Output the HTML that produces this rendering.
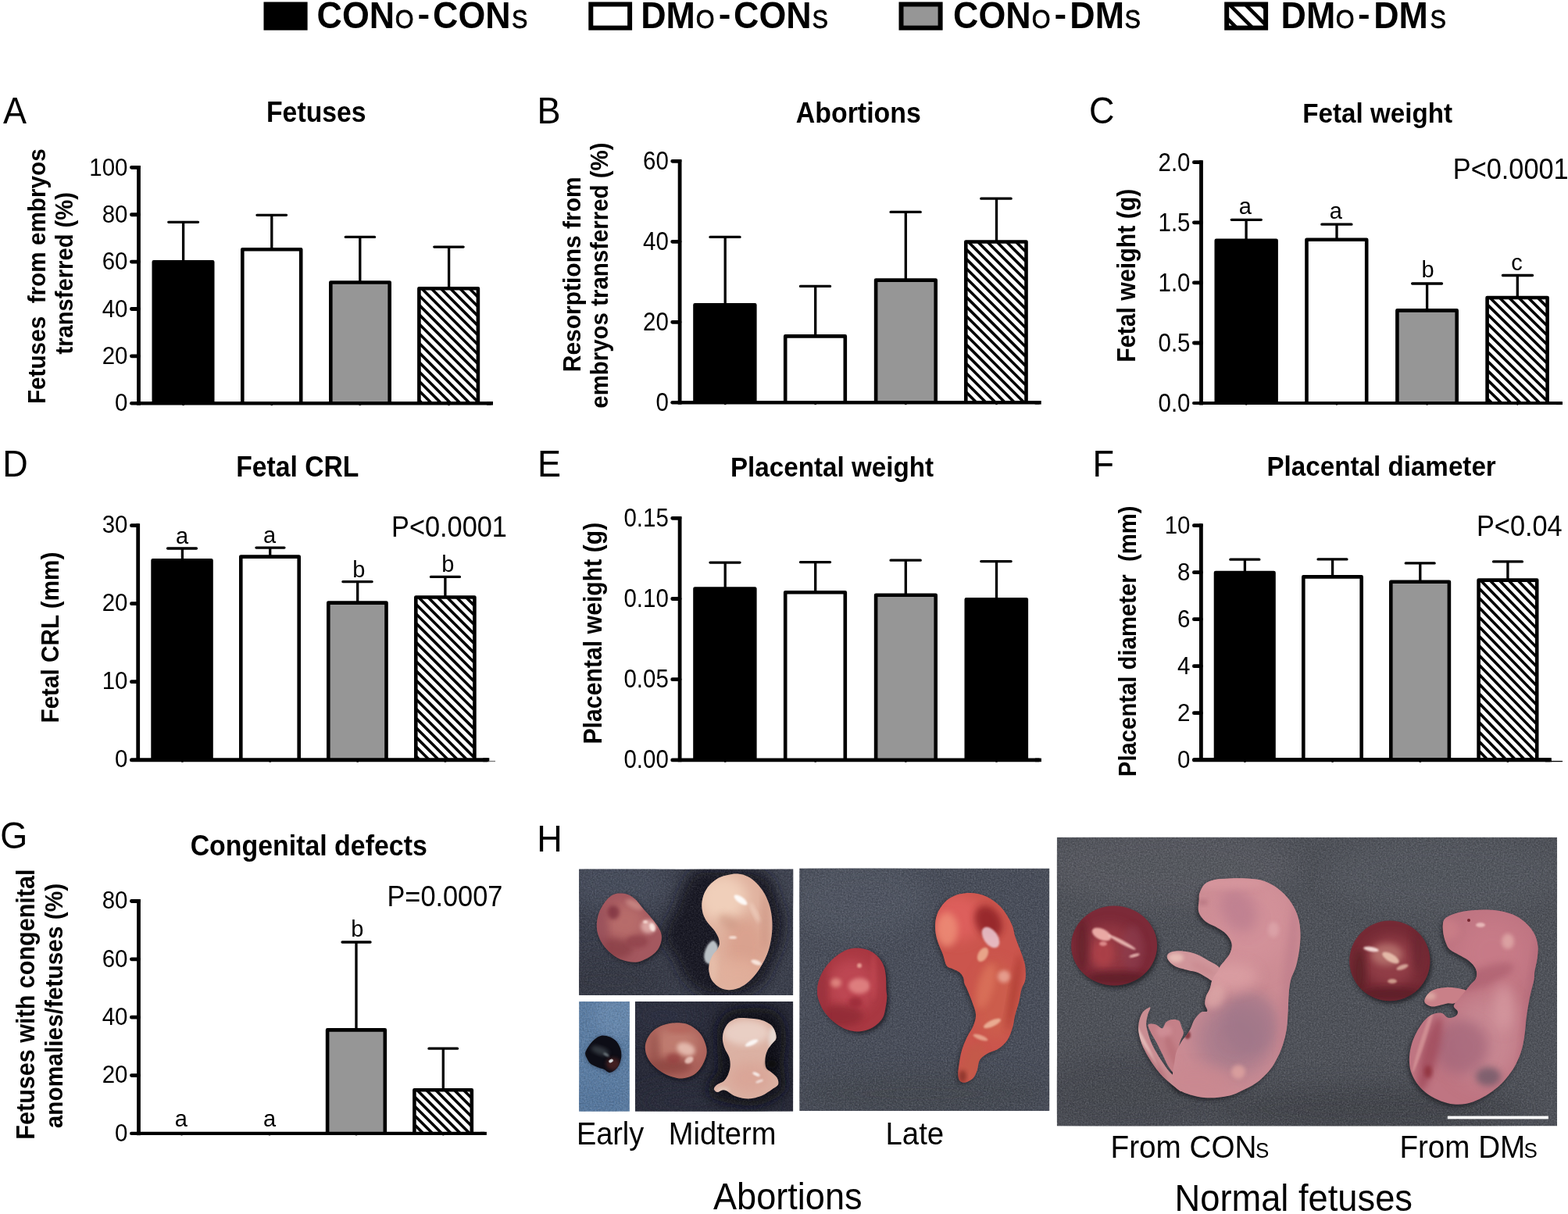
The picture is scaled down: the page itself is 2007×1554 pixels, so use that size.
<!DOCTYPE html>
<html lang="en">
<head>
<meta charset="utf-8">
<title>Fetal and placental outcomes</title>
<style>
html,body{margin:0;padding:0;background:#fff;}
body{width:2007px;height:1554px;overflow:hidden;}
svg{display:block;}
text{font-family:"Liberation Sans", Arial, Helvetica, sans-serif;}
</style>
</head>
<body>
<svg xmlns="http://www.w3.org/2000/svg" width="2007" height="1554" viewBox="0 0 2007 1554" font-family='"Liberation Sans", Arial, Helvetica, sans-serif' fill="#000">
<defs>
<clipPath id="c1"><rect x="1570.20" y="5.50" width="49.90" height="30.20"/></clipPath>
<clipPath id="c2"><rect x="536.40" y="369.20" width="75.50" height="147.05"/></clipPath>
<clipPath id="c3"><rect x="1236.30" y="309.50" width="77.20" height="205.80"/></clipPath>
<clipPath id="c4"><rect x="1903.60" y="381.00" width="77.00" height="135.10"/></clipPath>
<clipPath id="c5"><rect x="532.30" y="764.50" width="75.10" height="208.20"/></clipPath>
<clipPath id="c6"><rect x="1892.60" y="742.60" width="74.60" height="230.10"/></clipPath>
<clipPath id="c7"><rect x="530.40" y="1395.20" width="73.40" height="55.70"/></clipPath>
<filter id="b05" x="-10%" y="-10%" width="120%" height="120%"><feGaussianBlur stdDeviation="0.6"/></filter>
<filter id="b1" x="-20%" y="-20%" width="140%" height="140%"><feGaussianBlur stdDeviation="1.2"/></filter>
<filter id="b2" x="-30%" y="-30%" width="160%" height="160%"><feGaussianBlur stdDeviation="2.5"/></filter>
<filter id="b4" x="-40%" y="-40%" width="180%" height="180%"><feGaussianBlur stdDeviation="4.5"/></filter>
<filter id="b8" x="-50%" y="-50%" width="200%" height="200%"><feGaussianBlur stdDeviation="8"/></filter>
<filter id="b14" x="-60%" y="-60%" width="220%" height="220%"><feGaussianBlur stdDeviation="14"/></filter>
<filter id="tex" x="0" y="0" width="100%" height="100%" filterUnits="objectBoundingBox">
<feTurbulence type="fractalNoise" baseFrequency="0.55 0.55" numOctaves="3" seed="7" result="n"/>
<feColorMatrix in="n" type="matrix" values="0 0 0 0 1  0 0 0 0 1  0 0 0 0 1  1.6 1.6 0 0 -1.25"/>
</filter>
<filter id="texd" x="0" y="0" width="100%" height="100%" filterUnits="objectBoundingBox">
<feTurbulence type="fractalNoise" baseFrequency="0.5 0.5" numOctaves="3" seed="23" result="n"/>
<feColorMatrix in="n" type="matrix" values="0 0 0 0 0  0 0 0 0 0  0 0 0 0 0  1.6 0 1.6 0 -1.25"/>
</filter>
<clipPath id="ph1"><rect x="741.1" y="1112.5" width="274.2" height="161.5"/></clipPath>
<clipPath id="ob2"><path d="M793.8 1143.6C796.8 1143.6 800.3 1143.7 803.6 1145.0C806.8 1146.2 810.1 1148.2 813.3 1151.2C816.6 1154.3 819.6 1159.0 823.1 1163.1C826.6 1167.2 831.0 1171.7 834.3 1175.7C837.5 1179.6 840.5 1183.2 842.6 1186.8C844.7 1190.4 846.4 1193.7 846.8 1197.3C847.3 1200.9 846.6 1205.0 845.4 1208.4C844.3 1211.9 842.6 1215.2 839.8 1218.2C837.1 1221.2 832.6 1224.4 828.7 1226.6C824.7 1228.8 820.3 1230.8 816.1 1231.5C811.9 1232.2 807.8 1231.6 803.6 1230.8C799.4 1230.0 795.0 1228.7 791.0 1226.6C787.1 1224.5 783.1 1221.2 779.9 1218.2C776.6 1215.2 773.8 1211.9 771.5 1208.4C769.2 1205.0 767.2 1201.0 765.9 1197.3C764.6 1193.6 763.9 1190.1 763.8 1186.1C763.7 1182.2 764.3 1177.5 765.2 1173.6C766.1 1169.6 767.4 1166.1 769.4 1162.4C771.4 1158.7 774.4 1154.2 777.1 1151.2C779.7 1148.3 782.6 1146.2 785.4 1145.0C788.2 1143.7 790.8 1143.6 793.8 1143.6Z"/></clipPath>
<clipPath id="ob3"><path d="M931.9 1119.9C936.1 1118.9 940.3 1118.1 944.5 1118.5C948.7 1118.8 953.1 1120.0 957.0 1122.0C961.0 1123.9 964.7 1126.8 968.2 1130.3C971.7 1133.8 975.3 1138.5 978.0 1142.9C980.6 1147.3 982.6 1151.9 984.2 1156.8C985.9 1161.7 987.0 1166.8 987.7 1172.2C988.4 1177.5 988.7 1183.3 988.4 1188.9C988.2 1194.5 987.4 1200.3 986.3 1205.7C985.3 1211.0 984.0 1216.1 982.1 1221.0C980.3 1225.9 977.7 1230.5 975.2 1235.0C972.6 1239.4 970.0 1243.6 966.8 1247.5C963.5 1251.5 959.6 1255.6 955.6 1258.7C951.7 1261.7 947.3 1264.2 943.1 1265.6C938.9 1267.0 934.5 1267.5 930.5 1267.0C926.6 1266.6 922.6 1264.9 919.4 1262.9C916.1 1260.8 913.0 1257.7 911.0 1254.5C909.0 1251.2 908.0 1247.0 907.5 1243.3C907.0 1239.6 907.4 1235.7 908.2 1232.2C909.0 1228.7 910.8 1225.2 912.4 1222.4C914.0 1219.6 916.6 1217.7 918.0 1215.4C919.4 1213.1 920.5 1211.0 920.8 1208.4C921.0 1205.9 920.5 1203.1 919.4 1200.1C918.2 1197.1 916.1 1193.6 913.8 1190.3C911.5 1187.1 907.7 1184.0 905.4 1180.5C903.1 1177.1 901.0 1173.3 899.8 1169.4C898.7 1165.4 898.2 1161.0 898.4 1156.8C898.7 1152.6 899.6 1148.2 901.2 1144.3C902.9 1140.3 905.2 1136.5 908.2 1133.1C911.2 1129.7 915.4 1126.3 919.4 1124.0C923.3 1121.8 927.7 1120.8 931.9 1119.9Z"/></clipPath>
<clipPath id="ph4"><rect x="741.1" y="1281.9" width="64.8" height="140.9"/></clipPath>
<clipPath id="ob5"><path d="M771.5 1325.4C774.2 1325.4 778.2 1326.1 781.2 1327.5C784.3 1328.9 787.4 1331.1 789.6 1333.8C791.8 1336.5 793.6 1340.3 794.5 1343.6C795.4 1346.8 795.5 1350.1 795.2 1353.3C794.8 1356.6 793.8 1360.3 792.4 1363.1C791.0 1365.9 788.9 1368.4 786.8 1370.1C784.7 1371.7 782.2 1373.1 779.9 1372.9C777.5 1372.6 775.4 1369.8 772.9 1368.7C770.3 1367.5 767.3 1367.1 764.5 1365.9C761.7 1364.7 758.3 1363.6 756.1 1361.7C753.9 1359.8 752.4 1357.1 751.3 1354.7C750.1 1352.4 748.8 1350.3 749.2 1347.8C749.5 1345.2 751.7 1341.9 753.3 1339.4C755.0 1336.8 756.9 1334.4 758.9 1332.4C760.9 1330.4 763.1 1328.7 765.2 1327.5C767.3 1326.4 768.8 1325.4 771.5 1325.4Z"/></clipPath>
<clipPath id="ph6"><rect x="812.9" y="1281.9" width="202.4" height="140.9"/></clipPath>
<clipPath id="ob7"><path d="M863.6 1309.4C867.0 1309.3 872.2 1309.2 876.1 1310.1C880.1 1311.0 883.8 1312.6 887.3 1315.0C890.8 1317.3 894.5 1320.7 897.0 1324.0C899.6 1327.4 901.3 1331.5 902.6 1335.2C903.9 1338.9 904.8 1342.6 904.7 1346.4C904.6 1350.1 903.4 1353.8 901.9 1357.5C900.4 1361.2 898.3 1365.4 895.6 1368.7C893.0 1371.9 889.6 1375.1 885.9 1377.1C882.2 1379.0 877.5 1380.3 873.3 1380.5C869.1 1380.8 865.0 1379.7 860.8 1378.4C856.6 1377.2 852.2 1375.2 848.2 1372.9C844.3 1370.5 840.2 1367.5 837.1 1364.5C833.9 1361.5 831.2 1358.2 829.4 1354.7C827.5 1351.2 826.2 1347.3 825.9 1343.6C825.5 1339.8 825.9 1336.1 827.3 1332.4C828.7 1328.7 831.2 1324.4 834.3 1321.2C837.3 1318.1 841.9 1315.4 845.4 1313.6C848.9 1311.8 852.2 1311.1 855.2 1310.4C858.2 1309.7 860.1 1309.4 863.6 1309.4Z"/></clipPath>
<clipPath id="ob8"><path d="M947.3 1303.1C951.0 1302.9 956.6 1303.3 961.2 1303.8C965.9 1304.3 971.0 1304.6 975.2 1305.9C979.4 1307.2 983.5 1309.2 986.3 1311.5C989.1 1313.8 990.7 1316.8 991.9 1319.9C993.1 1322.9 994.0 1326.8 993.3 1329.6C992.6 1332.4 989.6 1334.0 987.7 1336.6C985.9 1339.2 983.5 1341.7 982.1 1345.0C980.7 1348.2 979.6 1352.4 979.4 1356.1C979.1 1359.8 979.4 1364.5 980.7 1367.3C982.1 1370.1 985.4 1370.8 987.7 1372.9C990.0 1375.0 993.3 1377.3 994.7 1379.8C996.1 1382.4 997.0 1385.9 996.1 1388.2C995.2 1390.5 991.7 1391.9 989.1 1393.8C986.6 1395.7 983.5 1397.7 980.7 1399.4C978.0 1401.0 975.6 1402.4 972.4 1403.6C969.1 1404.7 964.9 1406.0 961.2 1406.3C957.5 1406.7 953.8 1406.3 950.1 1405.7C946.3 1405.0 942.1 1403.7 938.9 1402.2C935.6 1400.7 932.8 1397.7 930.5 1396.6C928.2 1395.4 927.0 1395.0 924.9 1395.2C922.8 1395.4 919.8 1398.2 918.0 1398.0C916.1 1397.7 913.8 1395.4 913.8 1393.8C913.8 1392.2 915.9 1389.8 918.0 1388.2C920.1 1386.6 924.0 1386.1 926.3 1384.0C928.7 1381.9 930.5 1378.9 931.9 1375.7C933.3 1372.4 934.5 1368.2 934.7 1364.5C934.9 1360.8 934.5 1357.1 933.3 1353.3C932.1 1349.6 929.1 1345.9 927.7 1342.2C926.3 1338.5 925.2 1334.7 924.9 1331.0C924.7 1327.3 925.2 1323.3 926.3 1319.9C927.5 1316.4 929.8 1312.5 931.9 1310.1C934.0 1307.6 936.3 1306.4 938.9 1305.2C941.5 1304.0 943.5 1303.3 947.3 1303.1Z"/></clipPath>
<clipPath id="ph9"><rect x="1023.2" y="1111.5" width="320.2" height="310.5"/></clipPath>
<clipPath id="ob10"><path d="M1046.0 1268.0C1046.1 1263.9 1046.8 1258.9 1048.4 1254.2C1050.1 1249.5 1052.6 1244.2 1055.7 1239.6C1058.9 1235.0 1062.8 1230.4 1067.1 1226.6C1071.4 1222.8 1076.9 1219.0 1081.7 1216.8C1086.6 1214.7 1091.5 1213.7 1096.3 1213.6C1101.2 1213.5 1106.6 1214.4 1111.0 1216.0C1115.3 1217.6 1119.1 1220.2 1122.3 1223.3C1125.6 1226.4 1128.6 1230.6 1130.5 1234.7C1132.4 1238.8 1133.0 1242.2 1133.7 1247.7C1134.4 1253.3 1134.3 1263.3 1134.5 1268.0C1134.8 1272.7 1135.5 1272.3 1135.3 1275.7C1135.2 1279.2 1134.5 1284.4 1133.7 1288.7C1132.9 1293.1 1132.4 1297.9 1130.5 1301.7C1128.6 1305.5 1125.6 1308.8 1122.3 1311.5C1119.1 1314.2 1115.3 1316.5 1111.0 1318.0C1106.6 1319.5 1101.5 1320.7 1096.3 1320.4C1091.2 1320.1 1085.2 1318.7 1080.1 1316.4C1075.0 1314.1 1069.8 1310.4 1065.5 1306.6C1061.2 1302.8 1057.1 1298.2 1054.1 1293.6C1051.1 1289.0 1049.0 1283.3 1047.6 1279.0C1046.3 1274.7 1045.9 1272.1 1046.0 1268.0Z"/></clipPath>
<clipPath id="ob11"><path d="M1211.7 1236.3C1209.5 1233.2 1208.7 1226.9 1206.8 1221.7C1204.9 1216.6 1201.9 1210.9 1200.3 1205.5C1198.7 1200.1 1197.3 1194.6 1197.1 1189.2C1196.8 1183.8 1197.3 1177.9 1198.7 1173.0C1200.0 1168.1 1202.5 1163.8 1205.2 1160.0C1207.9 1156.2 1211.1 1152.8 1214.9 1150.2C1218.7 1147.7 1223.3 1145.8 1227.9 1144.5C1232.5 1143.3 1237.7 1142.8 1242.5 1142.9C1247.4 1143.1 1252.6 1143.9 1257.2 1145.4C1261.8 1146.9 1266.1 1149.2 1270.2 1151.9C1274.2 1154.6 1278.3 1158.1 1281.5 1161.6C1284.8 1165.1 1287.2 1168.9 1289.7 1173.0C1292.1 1177.0 1294.5 1181.6 1296.2 1186.0C1297.8 1190.3 1298.0 1194.6 1299.4 1199.0C1300.8 1203.3 1302.7 1207.6 1304.3 1212.0C1305.9 1216.3 1307.8 1220.6 1309.1 1225.0C1310.5 1229.3 1311.9 1233.1 1312.4 1238.0C1312.9 1242.8 1313.2 1249.5 1312.4 1254.2C1311.6 1258.9 1308.9 1261.3 1307.5 1266.0C1306.2 1270.7 1305.6 1276.8 1304.3 1282.2C1302.9 1287.7 1300.8 1293.1 1299.4 1298.5C1298.0 1303.9 1297.8 1309.3 1296.2 1314.7C1294.5 1320.1 1292.6 1326.4 1289.7 1331.0C1286.7 1335.6 1282.6 1339.4 1278.3 1342.3C1274.0 1345.3 1267.7 1346.4 1263.7 1348.8C1259.6 1351.3 1256.1 1353.4 1253.9 1357.0C1251.8 1360.5 1252.0 1366.2 1250.7 1370.0C1249.3 1373.8 1248.2 1377.1 1245.8 1379.7C1243.4 1382.3 1238.9 1384.7 1236.0 1385.4C1233.2 1386.1 1230.4 1385.5 1228.7 1383.8C1227.1 1382.0 1226.4 1378.8 1226.3 1374.8C1226.2 1370.9 1227.1 1365.4 1227.9 1360.2C1228.7 1355.1 1229.6 1349.4 1231.2 1344.0C1232.8 1338.6 1235.2 1332.9 1237.7 1327.7C1240.1 1322.6 1243.9 1318.0 1245.8 1313.1C1247.7 1308.2 1249.3 1303.6 1249.0 1298.5C1248.8 1293.3 1246.1 1287.7 1244.2 1282.2C1242.3 1276.8 1239.3 1269.9 1237.7 1266.0C1236.0 1262.1 1235.2 1261.6 1234.4 1259.1C1233.6 1256.6 1233.9 1253.4 1232.8 1250.9C1231.7 1248.5 1230.1 1246.2 1227.9 1244.5C1225.8 1242.7 1222.5 1241.7 1219.8 1240.4C1217.1 1239.0 1213.8 1239.4 1211.7 1236.3Z"/></clipPath>
<clipPath id="ph12"><rect x="1352.8" y="1071.7" width="640.3" height="369.7"/></clipPath>
<clipPath id="ob13"><ellipse cx="1426.1" cy="1210.5" rx="55" ry="51"/></clipPath>
<clipPath id="ob14"><path d="M1471.3 1289.4C1469.8 1290.0 1465.3 1292.2 1463.1 1295.1C1460.9 1298.0 1459.1 1302.5 1458.2 1306.6C1457.2 1310.7 1456.8 1314.8 1457.3 1319.8C1457.9 1324.7 1459.4 1330.7 1461.4 1336.2C1463.5 1341.7 1466.7 1347.4 1469.7 1352.7C1472.7 1357.9 1476.0 1362.8 1479.5 1367.4C1483.1 1372.1 1487.2 1376.8 1491.0 1380.6C1494.9 1384.4 1499.0 1387.7 1502.6 1390.5C1506.1 1393.2 1511.3 1397.9 1512.4 1397.0C1513.5 1396.2 1510.8 1388.8 1509.1 1385.5C1507.5 1382.2 1504.7 1379.8 1502.6 1377.3C1500.4 1374.8 1498.4 1373.8 1496.0 1370.7C1493.5 1367.7 1490.5 1363.3 1487.8 1359.2C1485.0 1355.1 1482.0 1350.5 1479.5 1346.1C1477.1 1341.7 1474.7 1337.3 1473.0 1332.9C1471.2 1328.5 1469.8 1323.6 1468.8 1319.8C1467.9 1315.9 1467.1 1313.5 1467.2 1309.9C1467.3 1306.3 1468.5 1301.5 1469.3 1298.4C1470.2 1295.3 1471.8 1293.0 1472.1 1291.5C1472.5 1290.0 1472.8 1288.7 1471.3 1289.4Z"/></clipPath>
<clipPath id="ob15"><path d="M1469.7 1311.5C1470.8 1309.9 1476.5 1310.7 1479.5 1311.5C1482.6 1312.4 1485.6 1317.0 1487.8 1316.5C1489.9 1315.9 1490.5 1310.2 1492.7 1308.3C1494.9 1306.3 1498.2 1305.2 1500.9 1305.0C1503.7 1304.7 1507.2 1305.0 1509.1 1306.6C1511.0 1308.3 1511.5 1312.1 1512.4 1314.8C1513.4 1317.6 1515.2 1320.0 1514.9 1323.1C1514.6 1326.1 1512.0 1329.1 1510.8 1332.9C1509.5 1336.8 1508.3 1341.7 1507.5 1346.1C1506.7 1350.5 1506.7 1354.8 1505.8 1359.2C1505.0 1363.6 1504.2 1371.3 1502.6 1372.4C1500.9 1373.5 1498.4 1369.6 1496.0 1365.8C1493.5 1362.0 1490.5 1354.8 1487.8 1349.4C1485.0 1343.9 1482.0 1337.6 1479.5 1332.9C1477.1 1328.3 1474.6 1325.0 1473.0 1321.4C1471.3 1317.8 1468.6 1313.2 1469.7 1311.5Z"/></clipPath>
<clipPath id="ob16"><path d="M1561.7 1240.3C1560.4 1235.9 1550.8 1232.1 1545.3 1228.8C1539.8 1225.5 1534.3 1222.5 1528.9 1220.6C1523.4 1218.6 1517.1 1217.7 1512.4 1217.3C1507.8 1216.9 1503.9 1217.3 1500.9 1218.1C1497.9 1218.9 1495.3 1220.4 1494.3 1222.2C1493.4 1224.0 1493.5 1226.3 1495.2 1228.8C1496.8 1231.2 1500.0 1234.8 1504.2 1237.0C1508.4 1239.2 1515.7 1240.6 1520.6 1241.9C1525.6 1243.3 1529.7 1243.6 1533.8 1245.2C1537.9 1246.9 1542.0 1250.1 1545.3 1251.8C1548.6 1253.4 1550.8 1257.0 1553.5 1255.1C1556.3 1253.2 1563.1 1244.7 1561.7 1240.3Z"/></clipPath>
<clipPath id="ob17"><path d="M1533.8 1164.7C1533.4 1161.4 1534.3 1156.7 1534.6 1153.1C1534.9 1149.6 1534.2 1146.8 1535.4 1143.3C1536.7 1139.7 1538.7 1134.6 1542.0 1131.8C1545.3 1128.9 1549.7 1127.2 1555.2 1126.0C1560.6 1124.8 1568.3 1124.6 1574.9 1124.4C1581.5 1124.1 1588.1 1124.0 1594.6 1124.4C1601.2 1124.8 1608.1 1125.1 1614.4 1126.8C1620.7 1128.6 1627.0 1131.5 1632.4 1135.1C1637.9 1138.6 1643.1 1143.6 1647.2 1148.2C1651.4 1152.9 1654.5 1157.8 1657.1 1163.0C1659.7 1168.2 1661.6 1173.7 1662.9 1179.4C1664.1 1185.2 1664.5 1191.2 1664.5 1197.5C1664.5 1203.8 1663.8 1210.7 1662.9 1217.3C1661.9 1223.8 1660.5 1230.9 1658.8 1237.0C1657.0 1243.1 1653.7 1248.4 1652.2 1254.0C1650.7 1259.6 1650.3 1265.0 1649.7 1270.4C1649.2 1275.9 1649.2 1281.4 1648.9 1286.9C1648.6 1292.4 1648.5 1297.8 1648.1 1303.3C1647.7 1308.8 1647.4 1314.3 1646.4 1319.8C1645.5 1325.2 1644.1 1330.7 1642.3 1336.2C1640.5 1341.7 1638.5 1347.2 1635.7 1352.7C1633.0 1358.1 1630.0 1363.9 1625.9 1369.1C1621.8 1374.3 1616.3 1379.8 1611.1 1383.9C1605.9 1388.0 1600.1 1390.9 1594.6 1393.8C1589.1 1396.6 1583.7 1399.4 1578.2 1401.2C1572.7 1402.9 1567.2 1403.8 1561.7 1404.4C1556.3 1405.1 1550.8 1405.5 1545.3 1405.3C1539.8 1405.0 1534.3 1404.2 1528.9 1402.8C1523.4 1401.4 1516.8 1399.4 1512.4 1397.0C1508.0 1394.7 1504.5 1392.4 1502.6 1388.8C1500.6 1385.3 1500.8 1380.6 1500.9 1375.7C1501.0 1370.7 1502.6 1364.2 1503.4 1359.2C1504.2 1354.3 1504.3 1350.5 1505.8 1346.1C1507.3 1341.7 1510.2 1336.5 1512.4 1332.9C1514.6 1329.4 1517.1 1327.4 1519.0 1324.7C1520.9 1322.0 1522.3 1319.8 1523.9 1316.5C1525.6 1313.2 1526.7 1308.4 1528.9 1305.0C1531.1 1301.5 1534.3 1297.7 1537.1 1295.9C1539.8 1294.1 1544.4 1296.1 1545.3 1294.3C1546.2 1292.5 1542.6 1288.4 1542.3 1285.2C1542.1 1282.1 1542.6 1278.7 1543.7 1275.4C1544.7 1272.1 1547.2 1269.2 1548.6 1265.5C1550.0 1261.9 1550.2 1257.1 1551.9 1253.4C1553.5 1249.8 1556.8 1246.3 1558.5 1243.6C1560.1 1240.8 1560.1 1239.5 1561.7 1237.0C1563.4 1234.5 1566.1 1231.8 1568.3 1228.8C1570.5 1225.8 1573.5 1222.5 1574.9 1218.9C1576.3 1215.3 1577.4 1211.2 1576.5 1207.4C1575.7 1203.6 1573.0 1199.2 1570.0 1195.9C1567.0 1192.6 1562.6 1190.1 1558.5 1187.7C1554.3 1185.2 1548.9 1183.6 1545.3 1181.1C1541.7 1178.6 1539.0 1175.6 1537.1 1172.9C1535.2 1170.1 1534.2 1167.9 1533.8 1164.7Z"/></clipPath>
<clipPath id="ob18"><ellipse cx="1778.9" cy="1229.9" rx="51.6" ry="51.3"/></clipPath>
<clipPath id="ob19"><path d="M1877.2 1268.8C1876.1 1266.2 1868.4 1265.5 1864.0 1264.7C1859.6 1263.9 1855.0 1263.7 1850.9 1263.9C1846.8 1264.0 1842.9 1264.4 1839.4 1265.5C1835.8 1266.6 1832.1 1268.2 1829.5 1270.4C1826.9 1272.6 1824.6 1276.3 1823.7 1278.7C1822.9 1281.0 1823.0 1282.8 1824.6 1284.4C1826.1 1286.1 1829.8 1288.1 1832.8 1288.5C1835.8 1288.9 1839.4 1287.6 1842.6 1286.9C1845.9 1286.2 1849.5 1284.8 1852.5 1284.4C1855.5 1284.0 1857.7 1285.1 1860.7 1284.4C1863.7 1283.7 1867.9 1282.9 1870.6 1280.3C1873.3 1277.7 1878.3 1271.4 1877.2 1268.8Z"/></clipPath>
<clipPath id="ob20"><path d="M1846.8 1184.4C1847.0 1181.1 1847.2 1178.5 1849.2 1176.2C1851.3 1173.8 1854.7 1172.1 1859.1 1170.4C1863.5 1168.8 1870.0 1167.3 1875.5 1166.3C1881.0 1165.3 1886.5 1164.9 1892.0 1164.7C1897.4 1164.4 1902.9 1164.2 1908.4 1164.7C1913.9 1165.1 1919.4 1165.7 1924.9 1167.1C1930.3 1168.5 1936.4 1170.3 1941.3 1172.9C1946.2 1175.5 1950.6 1178.9 1954.4 1182.7C1958.3 1186.6 1962.0 1191.2 1964.3 1195.9C1966.6 1200.6 1967.9 1205.5 1968.4 1210.7C1969.0 1215.9 1968.3 1221.7 1967.6 1227.1C1966.9 1232.6 1965.0 1239.1 1964.3 1243.6C1963.6 1248.1 1964.3 1249.5 1963.5 1254.0C1962.7 1258.5 1960.6 1265.0 1959.4 1270.4C1958.1 1275.9 1957.0 1281.4 1956.1 1286.9C1955.1 1292.4 1954.3 1297.8 1953.6 1303.3C1952.9 1308.8 1952.7 1314.3 1952.0 1319.8C1951.3 1325.2 1950.7 1330.7 1949.5 1336.2C1948.3 1341.7 1946.8 1347.2 1944.6 1352.7C1942.4 1358.1 1939.6 1363.9 1936.4 1369.1C1933.1 1374.3 1929.2 1379.2 1924.9 1383.9C1920.5 1388.6 1915.3 1393.2 1910.1 1397.0C1904.8 1400.9 1899.1 1404.3 1893.6 1406.9C1888.1 1409.5 1882.6 1411.6 1877.2 1412.7C1871.7 1413.8 1866.2 1414.0 1860.7 1413.5C1855.2 1412.9 1849.5 1411.3 1844.3 1409.4C1839.1 1407.5 1833.9 1404.9 1829.5 1402.0C1825.1 1399.1 1821.3 1395.7 1818.0 1392.1C1814.7 1388.6 1811.9 1384.7 1809.8 1380.6C1807.6 1376.5 1805.8 1372.1 1804.8 1367.4C1803.9 1362.8 1803.7 1357.6 1804.0 1352.7C1804.3 1347.7 1805.2 1342.5 1806.5 1337.9C1807.7 1333.2 1809.5 1328.8 1811.4 1324.7C1813.3 1320.6 1815.5 1316.8 1818.0 1313.2C1820.4 1309.6 1823.2 1305.9 1826.2 1303.3C1829.2 1300.7 1832.8 1298.6 1836.1 1297.6C1839.4 1296.5 1843.2 1296.3 1845.9 1297.1C1848.7 1297.9 1850.3 1301.6 1852.5 1302.5C1854.7 1303.4 1857.0 1303.1 1859.1 1302.5C1861.1 1302.0 1863.7 1300.6 1864.8 1299.2C1865.9 1297.8 1866.3 1296.2 1865.7 1294.3C1865.0 1292.4 1860.5 1290.3 1860.7 1287.7C1861.0 1285.1 1864.8 1281.8 1867.3 1278.7C1869.8 1275.5 1873.1 1271.8 1875.5 1268.8C1878.0 1265.8 1879.9 1263.1 1882.1 1260.6C1884.3 1258.0 1887.3 1256.0 1888.7 1253.4C1890.0 1250.9 1890.6 1248.0 1890.3 1245.2C1890.0 1242.5 1889.0 1239.7 1887.0 1237.0C1885.1 1234.3 1882.1 1231.2 1878.8 1228.8C1875.5 1226.3 1871.1 1224.4 1867.3 1222.2C1863.5 1220.0 1858.5 1218.1 1855.8 1215.6C1853.1 1213.2 1852.2 1210.7 1850.9 1207.4C1849.5 1204.1 1848.3 1199.7 1847.6 1195.9C1846.9 1192.1 1846.5 1187.7 1846.8 1184.4Z"/></clipPath>
</defs>
<rect x="0" y="0" width="2007" height="1554" fill="#fff"/>
<rect x="337.5" y="2.5" width="56.10000000000002" height="36.2" fill="#000"/>
<text transform="translate(405.6 35.8) scale(1 1.06)" font-size="44.8" font-weight="bold">CON</text>
<text transform="translate(505.7 35.8) scale(1 1.07)" font-size="30.6" stroke="#000" stroke-width="0.75">O</text>
<text transform="translate(534.5 33.4) scale(1.05 0.96)" font-size="44.8" font-weight="bold">-</text>
<text transform="translate(554.1 35.8) scale(1 1.06)" font-size="44.8" font-weight="bold">CON</text>
<text transform="translate(655.0 35.8) scale(1 1.07)" font-size="30.6" stroke="#000" stroke-width="0.75">S</text>
<rect x="756.3" y="5.5" width="49.80000000000007" height="30.200000000000003" fill="#fff"/>
<rect x="756.3" y="5.5" width="49.80000000000007" height="30.200000000000003" fill="none" stroke="#000" stroke-width="6.0"/>
<text transform="translate(820.2 35.8) scale(1 1.06)" font-size="44.8" font-weight="bold">DM</text>
<text transform="translate(890.8 35.8) scale(1 1.07)" font-size="30.6" stroke="#000" stroke-width="0.75">O</text>
<text transform="translate(919.8 33.4) scale(1.05 0.96)" font-size="44.8" font-weight="bold">-</text>
<text transform="translate(939.1 35.8) scale(1 1.06)" font-size="44.8" font-weight="bold">CON</text>
<text transform="translate(1039.5 35.8) scale(1 1.07)" font-size="30.6" stroke="#000" stroke-width="0.75">S</text>
<rect x="1153.5" y="5.5" width="50.09999999999991" height="30.200000000000003" fill="#969696"/>
<rect x="1153.5" y="5.5" width="50.09999999999991" height="30.200000000000003" fill="none" stroke="#000" stroke-width="6.0"/>
<text transform="translate(1220.1 35.8) scale(1 1.06)" font-size="44.8" font-weight="bold">CON</text>
<text transform="translate(1320.7 35.8) scale(1 1.07)" font-size="30.6" stroke="#000" stroke-width="0.75">O</text>
<text transform="translate(1349.5 33.4) scale(1.05 0.96)" font-size="44.8" font-weight="bold">-</text>
<text transform="translate(1369.3 35.8) scale(1 1.06)" font-size="44.8" font-weight="bold">DM</text>
<text transform="translate(1439.5 35.8) scale(1 1.07)" font-size="30.6" stroke="#000" stroke-width="0.75">S</text>
<rect x="1570.2" y="5.5" width="49.899999999999864" height="30.200000000000003" fill="#fff"/>
<path d="M1565.20 -64.00L1625.10 -4.10M1565.20 -43.50L1625.10 16.40M1565.20 -23.00L1625.10 36.90M1565.20 -2.50L1625.10 57.40M1565.20 18.00L1625.10 77.90M1565.20 38.50L1625.10 98.40" stroke="#000" stroke-width="4.6" fill="none" clip-path="url(#c1)"/>
<rect x="1570.2" y="5.5" width="49.899999999999864" height="30.200000000000003" fill="none" stroke="#000" stroke-width="6.0"/>
<text transform="translate(1639.6 35.8) scale(1 1.06)" font-size="44.8" font-weight="bold">DM</text>
<text transform="translate(1709.7 35.8) scale(1 1.07)" font-size="30.6" stroke="#000" stroke-width="0.75">O</text>
<text transform="translate(1738.1 33.4) scale(1.05 0.96)" font-size="44.8" font-weight="bold">-</text>
<text transform="translate(1758.2 35.8) scale(1 1.06)" font-size="44.8" font-weight="bold">DM</text>
<text transform="translate(1830.5 35.8) scale(1 1.07)" font-size="30.6" stroke="#000" stroke-width="0.75">S</text>
<g id="chartA">
<path d="M234.60 284.30V517.55M215.75 284.30H253.55" stroke="#000" stroke-width="3.3" stroke-linecap="round" fill="none"/>
<rect x="196.80" y="335.20" width="75.40" height="181.05" fill="#000"/>
<path d="M196.80 516.25V335.20H272.20V516.25" fill="none" stroke="#000" stroke-width="4.6" stroke-linejoin="round"/>
<path d="M347.80 275.30V517.55M328.95 275.30H366.55" stroke="#000" stroke-width="3.3" stroke-linecap="round" fill="none"/>
<rect x="310.30" y="319.20" width="74.90" height="197.05" fill="#fff"/>
<path d="M310.30 516.25V319.20H385.20V516.25" fill="none" stroke="#000" stroke-width="4.6" stroke-linejoin="round"/>
<path d="M460.80 303.40V517.55M442.25 303.40H479.55" stroke="#000" stroke-width="3.3" stroke-linecap="round" fill="none"/>
<rect x="423.30" y="361.50" width="75.40" height="154.75" fill="#969696"/>
<path d="M423.30 516.25V361.50H498.70V516.25" fill="none" stroke="#000" stroke-width="4.6" stroke-linejoin="round"/>
<path d="M574.60 316.10V517.55M555.75 316.10H593.15" stroke="#000" stroke-width="3.3" stroke-linecap="round" fill="none"/>
<rect x="536.40" y="369.20" width="75.50" height="147.05" fill="#fff"/>
<path d="M531.40 275.50L616.90 361.00M531.40 287.70L616.90 373.20M531.40 299.90L616.90 385.40M531.40 312.10L616.90 397.60M531.40 324.30L616.90 409.80M531.40 336.50L616.90 422.00M531.40 348.70L616.90 434.20M531.40 360.90L616.90 446.40M531.40 373.10L616.90 458.60M531.40 385.30L616.90 470.80M531.40 397.50L616.90 483.00M531.40 409.70L616.90 495.20M531.40 421.90L616.90 507.40M531.40 434.10L616.90 519.60M531.40 446.30L616.90 531.80M531.40 458.50L616.90 544.00M531.40 470.70L616.90 556.20M531.40 482.90L616.90 568.40M531.40 495.10L616.90 580.60M531.40 507.30L616.90 592.80M531.40 519.50L616.90 605.00" stroke="#000" stroke-width="3.6" fill="none" clip-path="url(#c2)"/>
<path d="M536.40 516.25V369.20H611.90V516.25" fill="none" stroke="#000" stroke-width="4.6" stroke-linejoin="round"/>
<path d="M177.50 214.35V516.25" stroke="#000" stroke-width="4.8" stroke-linecap="square" fill="none"/>
<path d="M168.40 455.87H177.50M168.40 395.49H177.50M168.40 335.11H177.50M168.40 274.73H177.50M168.40 214.35H177.50" stroke="#000" stroke-width="4.8" stroke-linecap="round" fill="none"/>
<path d="M168.30 516.25H628.00" stroke="#000" stroke-width="4.6" stroke-linecap="round" fill="none"/>
<rect x="623.00" y="513.95" width="8" height="4.6" fill="#000"/>
<text transform="translate(163.5 526.4) scale(1 1.075)" font-size="29.5" text-anchor="end">0</text>
<text transform="translate(163.5 466.0) scale(1 1.075)" font-size="29.5" text-anchor="end">20</text>
<text transform="translate(163.5 405.6) scale(1 1.075)" font-size="29.5" text-anchor="end">40</text>
<text transform="translate(163.5 345.3) scale(1 1.075)" font-size="29.5" text-anchor="end">60</text>
<text transform="translate(163.5 284.9) scale(1 1.075)" font-size="29.5" text-anchor="end">80</text>
<text transform="translate(163.5 224.5) scale(1 1.075)" font-size="29.5" text-anchor="end">100</text>
<text transform="translate(404.8 156.2) scale(1 1.08)" font-size="33.8" font-weight="bold" text-anchor="middle">Fetuses</text>
<text transform="translate(4.0 158.0) scale(1 1.06)" font-size="45">A</text>
<text transform="translate(58.4 353.7) rotate(-90) scale(1 1.07)" font-size="29.7" font-weight="bold" text-anchor="middle" xml:space="preserve">Fetuses  from embryos</text>
<text transform="translate(93.2 349.8) rotate(-90) scale(1 1.07)" font-size="29.2" font-weight="bold" text-anchor="middle" xml:space="preserve">transferred (%)</text>
</g>
<g id="chartB">
<path d="M928.20 303.40V516.60M908.95 303.40H947.05" stroke="#000" stroke-width="3.3" stroke-linecap="round" fill="none"/>
<rect x="889.50" y="390.30" width="76.80" height="125.00" fill="#000"/>
<path d="M889.50 515.30V390.30H966.30V515.30" fill="none" stroke="#000" stroke-width="4.6" stroke-linejoin="round"/>
<path d="M1043.70 366.40V516.60M1024.45 366.40H1062.55" stroke="#000" stroke-width="3.3" stroke-linecap="round" fill="none"/>
<rect x="1005.20" y="430.40" width="76.60" height="84.90" fill="#fff"/>
<path d="M1005.20 515.30V430.40H1081.80V515.30" fill="none" stroke="#000" stroke-width="4.6" stroke-linejoin="round"/>
<path d="M1159.30 271.40V516.60M1140.05 271.40H1178.25" stroke="#000" stroke-width="3.3" stroke-linecap="round" fill="none"/>
<rect x="1121.10" y="358.60" width="76.60" height="156.70" fill="#969696"/>
<path d="M1121.10 515.30V358.60H1197.70V515.30" fill="none" stroke="#000" stroke-width="4.6" stroke-linejoin="round"/>
<path d="M1275.50 254.20V516.60M1255.75 254.20H1294.15" stroke="#000" stroke-width="3.3" stroke-linecap="round" fill="none"/>
<rect x="1236.30" y="309.50" width="77.20" height="205.80" fill="#fff"/>
<path d="M1231.30 216.10L1318.50 303.30M1231.30 228.30L1318.50 315.50M1231.30 240.50L1318.50 327.70M1231.30 252.70L1318.50 339.90M1231.30 264.90L1318.50 352.10M1231.30 277.10L1318.50 364.30M1231.30 289.30L1318.50 376.50M1231.30 301.50L1318.50 388.70M1231.30 313.70L1318.50 400.90M1231.30 325.90L1318.50 413.10M1231.30 338.10L1318.50 425.30M1231.30 350.30L1318.50 437.50M1231.30 362.50L1318.50 449.70M1231.30 374.70L1318.50 461.90M1231.30 386.90L1318.50 474.10M1231.30 399.10L1318.50 486.30M1231.30 411.30L1318.50 498.50M1231.30 423.50L1318.50 510.70M1231.30 435.70L1318.50 522.90M1231.30 447.90L1318.50 535.10M1231.30 460.10L1318.50 547.30M1231.30 472.30L1318.50 559.50M1231.30 484.50L1318.50 571.70M1231.30 496.70L1318.50 583.90M1231.30 508.90L1318.50 596.10M1231.30 521.10L1318.50 608.30" stroke="#000" stroke-width="3.6" fill="none" clip-path="url(#c3)"/>
<path d="M1236.30 515.30V309.50H1313.50V515.30" fill="none" stroke="#000" stroke-width="4.6" stroke-linejoin="round"/>
<path d="M870.10 206.30V515.30" stroke="#000" stroke-width="4.8" stroke-linecap="square" fill="none"/>
<path d="M860.70 412.30H870.10M860.70 309.30H870.10M860.70 206.30H870.10" stroke="#000" stroke-width="4.8" stroke-linecap="round" fill="none"/>
<path d="M860.60 515.30H1329.70" stroke="#000" stroke-width="4.6" stroke-linecap="round" fill="none"/>
<rect x="1324.70" y="513.00" width="8" height="4.6" fill="#000"/>
<text transform="translate(855.8 526.2) scale(1 1.1)" font-size="29.5" text-anchor="end">0</text>
<text transform="translate(855.8 423.2) scale(1 1.1)" font-size="29.5" text-anchor="end">20</text>
<text transform="translate(855.8 320.2) scale(1 1.1)" font-size="29.5" text-anchor="end">40</text>
<text transform="translate(855.8 217.2) scale(1 1.1)" font-size="29.5" text-anchor="end">60</text>
<text transform="translate(1098.8 157.3) scale(1 1.08)" font-size="33.9" font-weight="bold" text-anchor="middle">Abortions</text>
<text transform="translate(687.5 157.6) scale(1 1.06)" font-size="45">B</text>
<text transform="translate(742.7 351.3) rotate(-90) scale(1 1.07)" font-size="30.0" font-weight="bold" text-anchor="middle" xml:space="preserve">Resorptions from</text>
<text transform="translate(777.9 352.6) rotate(-90) scale(1 1.07)" font-size="29.45" font-weight="bold" text-anchor="middle" xml:space="preserve">embryos transferred (%)</text>
</g>
<g id="chartC">
<path d="M1595.10 281.30V517.10M1576.25 281.30H1614.35" stroke="#000" stroke-width="3.3" stroke-linecap="round" fill="none"/>
<rect x="1556.80" y="307.80" width="76.80" height="208.30" fill="#000"/>
<path d="M1556.80 516.10V307.80H1633.60V516.10" fill="none" stroke="#000" stroke-width="4.6" stroke-linejoin="round"/>
<path d="M1711.00 287.20V517.10M1691.85 287.20H1729.95" stroke="#000" stroke-width="3.3" stroke-linecap="round" fill="none"/>
<rect x="1672.50" y="306.80" width="76.70" height="209.30" fill="#fff"/>
<path d="M1672.50 516.10V306.80H1749.20V516.10" fill="none" stroke="#000" stroke-width="4.6" stroke-linejoin="round"/>
<path d="M1826.60 363.00V517.10M1807.65 363.00H1845.55" stroke="#000" stroke-width="3.3" stroke-linecap="round" fill="none"/>
<rect x="1788.40" y="397.40" width="76.30" height="118.70" fill="#969696"/>
<path d="M1788.40 516.10V397.40H1864.70V516.10" fill="none" stroke="#000" stroke-width="4.6" stroke-linejoin="round"/>
<path d="M1942.30 352.50V517.10M1923.45 352.50H1961.55" stroke="#000" stroke-width="3.3" stroke-linecap="round" fill="none"/>
<rect x="1903.60" y="381.00" width="77.00" height="135.10" fill="#fff"/>
<path d="M1898.60 288.58L1985.60 374.10M1898.60 300.61L1985.60 386.13M1898.60 312.63L1985.60 398.16M1898.60 324.67L1985.60 410.19M1898.60 336.70L1985.60 422.22M1898.60 348.73L1985.60 434.25M1898.60 360.76L1985.60 446.28M1898.60 372.79L1985.60 458.31M1898.60 384.82L1985.60 470.34M1898.60 396.85L1985.60 482.37M1898.60 408.88L1985.60 494.40M1898.60 420.90L1985.60 506.43M1898.60 432.94L1985.60 518.46M1898.60 444.97L1985.60 530.49M1898.60 457.00L1985.60 542.52M1898.60 469.03L1985.60 554.55M1898.60 481.06L1985.60 566.58M1898.60 493.09L1985.60 578.61M1898.60 505.12L1985.60 590.64M1898.60 517.14L1985.60 602.67" stroke="#000" stroke-width="3.6" fill="none" clip-path="url(#c4)"/>
<path d="M1903.60 516.10V381.00H1980.60V516.10" fill="none" stroke="#000" stroke-width="4.6" stroke-linejoin="round"/>
<path d="M1537.50 207.70V516.10" stroke="#000" stroke-width="4.8" stroke-linecap="square" fill="none"/>
<path d="M1528.40 439.00H1537.50M1528.40 361.90H1537.50M1528.40 284.80H1537.50M1528.40 207.70H1537.50" stroke="#000" stroke-width="4.8" stroke-linecap="round" fill="none"/>
<path d="M1528.00 516.10H1997.00" stroke="#000" stroke-width="4.0" stroke-linecap="round" fill="none"/>
<rect x="1992.00" y="514.10" width="8" height="4.0" fill="#000"/>
<text transform="translate(1523.5 527.2) scale(1 1.11)" font-size="29.5" text-anchor="end">0.0</text>
<text transform="translate(1523.5 450.1) scale(1 1.11)" font-size="29.5" text-anchor="end">0.5</text>
<text transform="translate(1523.5 373.0) scale(1 1.11)" font-size="29.5" text-anchor="end">1.0</text>
<text transform="translate(1523.5 295.9) scale(1 1.11)" font-size="29.5" text-anchor="end">1.5</text>
<text transform="translate(1523.5 218.8) scale(1 1.11)" font-size="29.5" text-anchor="end">2.0</text>
<text transform="translate(1593.8 274.0) scale(1 1.03)" font-size="29.0" text-anchor="middle">a</text>
<text transform="translate(1709.7 280.0) scale(1 1.03)" font-size="29.0" text-anchor="middle">a</text>
<text transform="translate(1827.6 355.4) scale(1 1.03)" font-size="29.0" text-anchor="middle">b</text>
<text transform="translate(1941.4 346.4) scale(1 1.03)" font-size="29.0" text-anchor="middle">c</text>
<text transform="translate(1859.8 229.1) scale(1 1.07)" font-size="34.3">P&lt;0.0001</text>
<text transform="translate(1763.2 157.3) scale(1 1.08)" font-size="33.2" font-weight="bold" text-anchor="middle">Fetal weight</text>
<text transform="translate(1394.0 157.6) scale(1 1.06)" font-size="45">C</text>
<text transform="translate(1452.8 352.7) rotate(-90) scale(1 1.07)" font-size="30.3" font-weight="bold" text-anchor="middle" xml:space="preserve">Fetal weight (g)</text>
</g>
<g id="chartD">
<path d="M233.40 702.00V974.20M214.55 702.00H251.45" stroke="#000" stroke-width="3.3" stroke-linecap="round" fill="none"/>
<rect x="195.60" y="717.20" width="74.90" height="255.50" fill="#000"/>
<path d="M195.60 972.70V717.20H270.50V972.70" fill="none" stroke="#000" stroke-width="4.6" stroke-linejoin="round"/>
<path d="M345.70 701.10V974.20M327.95 701.10H363.95" stroke="#000" stroke-width="3.3" stroke-linecap="round" fill="none"/>
<rect x="308.30" y="712.60" width="74.40" height="260.10" fill="#fff"/>
<path d="M308.30 972.70V712.60H382.70V972.70" fill="none" stroke="#000" stroke-width="4.6" stroke-linejoin="round"/>
<path d="M457.70 744.60V974.20M438.85 744.60H476.15" stroke="#000" stroke-width="3.3" stroke-linecap="round" fill="none"/>
<rect x="420.30" y="771.60" width="74.20" height="201.10" fill="#969696"/>
<path d="M420.30 972.70V771.60H494.50V972.70" fill="none" stroke="#000" stroke-width="4.6" stroke-linejoin="round"/>
<path d="M569.90 738.40V974.20M551.45 738.40H588.45" stroke="#000" stroke-width="3.3" stroke-linecap="round" fill="none"/>
<rect x="532.30" y="764.50" width="75.10" height="208.20" fill="#fff"/>
<path d="M527.30 671.15L612.40 756.25M527.30 683.30L612.40 768.40M527.30 695.45L612.40 780.55M527.30 707.60L612.40 792.70M527.30 719.75L612.40 804.85M527.30 731.90L612.40 817.00M527.30 744.05L612.40 829.15M527.30 756.20L612.40 841.30M527.30 768.35L612.40 853.45M527.30 780.50L612.40 865.60M527.30 792.65L612.40 877.75M527.30 804.80L612.40 889.90M527.30 816.95L612.40 902.05M527.30 829.10L612.40 914.20M527.30 841.25L612.40 926.35M527.30 853.40L612.40 938.50M527.30 865.55L612.40 950.65M527.30 877.70L612.40 962.80M527.30 889.85L612.40 974.95M527.30 902.00L612.40 987.10M527.30 914.15L612.40 999.25M527.30 926.30L612.40 1011.40M527.30 938.45L612.40 1023.55M527.30 950.60L612.40 1035.70M527.30 962.75L612.40 1047.85M527.30 974.90L612.40 1060.00" stroke="#000" stroke-width="3.6" fill="none" clip-path="url(#c5)"/>
<path d="M532.30 972.70V764.50H607.40V972.70" fill="none" stroke="#000" stroke-width="4.6" stroke-linejoin="round"/>
<path d="M176.70 672.70V972.70" stroke="#000" stroke-width="4.8" stroke-linecap="square" fill="none"/>
<path d="M168.40 872.70H176.70M168.40 772.70H176.70M168.40 672.70H176.70" stroke="#000" stroke-width="4.8" stroke-linecap="round" fill="none"/>
<path d="M168.50 972.70H623.30" stroke="#000" stroke-width="5.0" stroke-linecap="round" fill="none"/>
<rect x="618.30" y="970.20" width="8" height="5.0" fill="#000"/>
<rect x="625.30" y="973.80" width="8.70" height="1.3" fill="#777"/>
<text transform="translate(163.5 982.3) scale(1 1.055)" font-size="29.5" text-anchor="end">0</text>
<text transform="translate(163.5 882.3) scale(1 1.055)" font-size="29.5" text-anchor="end">10</text>
<text transform="translate(163.5 782.3) scale(1 1.055)" font-size="29.5" text-anchor="end">20</text>
<text transform="translate(163.5 682.3) scale(1 1.055)" font-size="29.5" text-anchor="end">30</text>
<text transform="translate(233.0 695.9) scale(1 1.03)" font-size="29.0" text-anchor="middle">a</text>
<text transform="translate(345.0 695.4) scale(1 1.03)" font-size="29.0" text-anchor="middle">a</text>
<text transform="translate(459.4 738.6) scale(1 1.03)" font-size="29.0" text-anchor="middle">b</text>
<text transform="translate(573.3 732.4) scale(1 1.03)" font-size="29.0" text-anchor="middle">b</text>
<text transform="translate(501.1 686.8) scale(1 1.07)" font-size="34.3">P&lt;0.0001</text>
<text transform="translate(380.8 609.7) scale(1 1.08)" font-size="33.7" font-weight="bold" text-anchor="middle">Fetal CRL</text>
<text transform="translate(3.2 609.6) scale(1 1.06)" font-size="45">D</text>
<text transform="translate(74.5 816.1) rotate(-90) scale(1 1.07)" font-size="29.7" font-weight="bold" text-anchor="middle" xml:space="preserve">Fetal CRL (mm)</text>
</g>
<g id="chartE">
<path d="M928.20 720.10V974.20M908.95 720.10H947.05" stroke="#000" stroke-width="3.3" stroke-linecap="round" fill="none"/>
<rect x="889.50" y="753.60" width="76.80" height="219.30" fill="#000"/>
<path d="M889.50 972.90V753.60H966.30V972.90" fill="none" stroke="#000" stroke-width="4.6" stroke-linejoin="round"/>
<path d="M1043.70 719.60V974.20M1024.45 719.60H1062.55" stroke="#000" stroke-width="3.3" stroke-linecap="round" fill="none"/>
<rect x="1005.20" y="758.20" width="76.60" height="214.70" fill="#fff"/>
<path d="M1005.20 972.90V758.20H1081.80V972.90" fill="none" stroke="#000" stroke-width="4.6" stroke-linejoin="round"/>
<path d="M1159.30 717.20V974.20M1140.05 717.20H1178.25" stroke="#000" stroke-width="3.3" stroke-linecap="round" fill="none"/>
<rect x="1121.10" y="761.80" width="76.60" height="211.10" fill="#969696"/>
<path d="M1121.10 972.90V761.80H1197.70V972.90" fill="none" stroke="#000" stroke-width="4.6" stroke-linejoin="round"/>
<path d="M1275.50 718.60V974.20M1255.75 718.60H1294.15" stroke="#000" stroke-width="3.3" stroke-linecap="round" fill="none"/>
<rect x="1236.80" y="767.20" width="77.00" height="205.70" fill="#000"/>
<path d="M1236.80 972.90V767.20H1313.80V972.90" fill="none" stroke="#000" stroke-width="4.6" stroke-linejoin="round"/>
<path d="M870.10 663.30V972.90" stroke="#000" stroke-width="4.8" stroke-linecap="square" fill="none"/>
<path d="M860.70 869.70H870.10M860.70 766.50H870.10M860.70 663.30H870.10" stroke="#000" stroke-width="4.8" stroke-linecap="round" fill="none"/>
<path d="M860.60 972.90H1329.90" stroke="#000" stroke-width="4.6" stroke-linecap="round" fill="none"/>
<rect x="1324.90" y="970.60" width="8" height="4.6" fill="#000"/>
<text transform="translate(855.8 983.2) scale(1 1.11)" font-size="29.5" text-anchor="end">0.00</text>
<text transform="translate(855.8 880.0) scale(1 1.11)" font-size="29.5" text-anchor="end">0.05</text>
<text transform="translate(855.8 776.8) scale(1 1.11)" font-size="29.5" text-anchor="end">0.10</text>
<text transform="translate(855.8 673.6) scale(1 1.11)" font-size="29.5" text-anchor="end">0.15</text>
<text transform="translate(1065.0 609.7) scale(1 1.08)" font-size="33.2" font-weight="bold" text-anchor="middle">Placental weight</text>
<text transform="translate(688.0 609.6) scale(1 1.06)" font-size="45">E</text>
<text transform="translate(769.8 810.6) rotate(-90) scale(1 1.07)" font-size="30.25" font-weight="bold" text-anchor="middle" xml:space="preserve">Placental weight (g)</text>
</g>
<g id="chartF">
<path d="M1593.40 716.20V974.30M1574.85 716.20H1611.85" stroke="#000" stroke-width="3.3" stroke-linecap="round" fill="none"/>
<rect x="1556.00" y="733.00" width="74.50" height="239.70" fill="#000"/>
<path d="M1556.00 972.70V733.00H1630.50V972.70" fill="none" stroke="#000" stroke-width="4.6" stroke-linejoin="round"/>
<path d="M1705.60 715.90V974.30M1687.05 715.90H1723.95" stroke="#000" stroke-width="3.3" stroke-linecap="round" fill="none"/>
<rect x="1668.30" y="738.40" width="74.40" height="234.30" fill="#fff"/>
<path d="M1668.30 972.70V738.40H1742.70V972.70" fill="none" stroke="#000" stroke-width="4.6" stroke-linejoin="round"/>
<path d="M1817.80 720.90V974.30M1799.25 720.90H1836.15" stroke="#000" stroke-width="3.3" stroke-linecap="round" fill="none"/>
<rect x="1780.30" y="744.80" width="74.60" height="227.90" fill="#969696"/>
<path d="M1780.30 972.70V744.80H1854.90V972.70" fill="none" stroke="#000" stroke-width="4.6" stroke-linejoin="round"/>
<path d="M1929.90 718.90V974.30M1911.55 718.90H1948.45" stroke="#000" stroke-width="3.3" stroke-linecap="round" fill="none"/>
<rect x="1892.60" y="742.60" width="74.60" height="230.10" fill="#fff"/>
<path d="M1887.60 649.31L1972.20 736.36M1887.60 661.56L1972.20 748.61M1887.60 673.81L1972.20 760.86M1887.60 686.06L1972.20 773.11M1887.60 698.31L1972.20 785.36M1887.60 710.56L1972.20 797.61M1887.60 722.81L1972.20 809.86M1887.60 735.06L1972.20 822.11M1887.60 747.31L1972.20 834.36M1887.60 759.56L1972.20 846.61M1887.60 771.81L1972.20 858.86M1887.60 784.06L1972.20 871.11M1887.60 796.31L1972.20 883.36M1887.60 808.56L1972.20 895.61M1887.60 820.81L1972.20 907.86M1887.60 833.06L1972.20 920.11M1887.60 845.31L1972.20 932.36M1887.60 857.56L1972.20 944.61M1887.60 869.81L1972.20 956.86M1887.60 882.06L1972.20 969.11M1887.60 894.31L1972.20 981.36M1887.60 906.56L1972.20 993.61M1887.60 918.81L1972.20 1005.86M1887.60 931.06L1972.20 1018.11M1887.60 943.31L1972.20 1030.36M1887.60 955.56L1972.20 1042.61M1887.60 967.81L1972.20 1054.86M1887.60 980.06L1972.20 1067.11" stroke="#000" stroke-width="3.6" fill="none" clip-path="url(#c6)"/>
<path d="M1892.60 972.70V742.60H1967.20V972.70" fill="none" stroke="#000" stroke-width="4.6" stroke-linejoin="round"/>
<path d="M1537.40 672.70V972.70" stroke="#000" stroke-width="4.8" stroke-linecap="square" fill="none"/>
<path d="M1528.40 912.70H1537.40M1528.40 852.70H1537.40M1528.40 792.70H1537.40M1528.40 732.70H1537.40M1528.40 672.70H1537.40" stroke="#000" stroke-width="4.8" stroke-linecap="round" fill="none"/>
<path d="M1528.60 972.70H1982.80" stroke="#000" stroke-width="5.2" stroke-linecap="round" fill="none"/>
<rect x="1977.80" y="970.10" width="8" height="5.2" fill="#000"/>
<rect x="1984.80" y="973.90" width="15.20" height="1.3" fill="#000"/>
<text transform="translate(1523.5 982.5) scale(1 1.06)" font-size="29.5" text-anchor="end">0</text>
<text transform="translate(1523.5 922.5) scale(1 1.06)" font-size="29.5" text-anchor="end">2</text>
<text transform="translate(1523.5 862.5) scale(1 1.06)" font-size="29.5" text-anchor="end">4</text>
<text transform="translate(1523.5 802.5) scale(1 1.06)" font-size="29.5" text-anchor="end">6</text>
<text transform="translate(1523.5 742.5) scale(1 1.06)" font-size="29.5" text-anchor="end">8</text>
<text transform="translate(1523.5 682.5) scale(1 1.06)" font-size="29.5" text-anchor="end">10</text>
<text transform="translate(1890.0 686.0) scale(1 1.07)" font-size="34.3">P&lt;0.04</text>
<text transform="translate(1768.1 609.3) scale(1 1.08)" font-size="33.2" font-weight="bold" text-anchor="middle">Placental diameter</text>
<text transform="translate(1398.6 609.6) scale(1 1.06)" font-size="45">F</text>
<text transform="translate(1454.0 820.8) rotate(-90) scale(1 1.07)" font-size="29.3" font-weight="bold" text-anchor="middle" xml:space="preserve">Placental diameter  (mm)</text>
</g>
<g id="chartG">
<path d="M232.50 1450.90V1451.95M232.50 1450.90H232.50" stroke="#000" stroke-width="3.3" stroke-linecap="round" fill="none"/>
<path d="M345.00 1450.90V1451.95M345.00 1450.90H345.00" stroke="#000" stroke-width="3.3" stroke-linecap="round" fill="none"/>
<path d="M456.00 1206.00V1451.95M438.05 1206.00H474.05" stroke="#000" stroke-width="3.3" stroke-linecap="round" fill="none"/>
<rect x="419.10" y="1318.40" width="73.70" height="132.50" fill="#969696"/>
<path d="M419.10 1450.90V1318.40H492.80V1450.90" fill="none" stroke="#000" stroke-width="4.6" stroke-linejoin="round"/>
<path d="M567.30 1342.20V1451.95M548.95 1342.20H585.55" stroke="#000" stroke-width="3.3" stroke-linecap="round" fill="none"/>
<rect x="530.40" y="1395.20" width="73.40" height="55.70" fill="#fff"/>
<path d="M525.40 1303.60L608.80 1387.00M525.40 1315.50L608.80 1398.90M525.40 1327.40L608.80 1410.80M525.40 1339.30L608.80 1422.70M525.40 1351.20L608.80 1434.60M525.40 1363.10L608.80 1446.50M525.40 1375.00L608.80 1458.40M525.40 1386.90L608.80 1470.30M525.40 1398.80L608.80 1482.20M525.40 1410.70L608.80 1494.10M525.40 1422.60L608.80 1506.00M525.40 1434.50L608.80 1517.90M525.40 1446.40L608.80 1529.80M525.40 1458.30L608.80 1541.70" stroke="#000" stroke-width="3.6" fill="none" clip-path="url(#c7)"/>
<path d="M530.40 1450.90V1395.20H603.80V1450.90" fill="none" stroke="#000" stroke-width="4.6" stroke-linejoin="round"/>
<path d="M177.50 1153.50V1450.90" stroke="#000" stroke-width="4.8" stroke-linecap="square" fill="none"/>
<path d="M168.40 1376.55H177.50M168.40 1302.20H177.50M168.40 1227.85H177.50M168.40 1153.50H177.50" stroke="#000" stroke-width="4.8" stroke-linecap="round" fill="none"/>
<path d="M168.05 1450.90H619.90" stroke="#000" stroke-width="4.1" stroke-linecap="round" fill="none"/>
<rect x="614.90" y="1448.85" width="8" height="4.1" fill="#000"/>
<text transform="translate(163.5 1460.7) scale(1 1.05)" font-size="29.5" text-anchor="end">0</text>
<text transform="translate(163.5 1386.4) scale(1 1.05)" font-size="29.5" text-anchor="end">20</text>
<text transform="translate(163.5 1312.0) scale(1 1.05)" font-size="29.5" text-anchor="end">40</text>
<text transform="translate(163.5 1237.7) scale(1 1.05)" font-size="29.5" text-anchor="end">60</text>
<text transform="translate(163.5 1163.3) scale(1 1.05)" font-size="29.5" text-anchor="end">80</text>
<text transform="translate(231.7 1442.0) scale(1 1.03)" font-size="29.0" text-anchor="middle">a</text>
<text transform="translate(345.0 1442.0) scale(1 1.03)" font-size="29.0" text-anchor="middle">a</text>
<text transform="translate(457.4 1198.8) scale(1 1.03)" font-size="29.0" text-anchor="middle">b</text>
<text transform="translate(495.5 1160.0) scale(1 1.07)" font-size="34.3">P=0.0007</text>
<text transform="translate(395.2 1094.8) scale(1 1.08)" font-size="33.9" font-weight="bold" text-anchor="middle">Congenital defects</text>
<text transform="translate(0.3 1086.3) scale(1 1.06)" font-size="45">G</text>
<text transform="translate(44.4 1285.6) rotate(-90) scale(1 1.07)" font-size="30.55" font-weight="bold" text-anchor="middle" xml:space="preserve">Fetuses with congenital</text>
<text transform="translate(79.6 1287.5) rotate(-90) scale(1 1.07)" font-size="29.85" font-weight="bold" text-anchor="middle" xml:space="preserve">anomalies/fetuses (%)</text>
</g>
<g id="photos">
<g clip-path="url(#ph1)">
<rect x="741.1" y="1112.5" width="274.2" height="161.5" fill="#3a3e4c"/>
<ellipse cx="790.0" cy="1130.0" rx="70.0" ry="40.0" fill="#4a4f5e" filter="url(#b14)" opacity="0.9"/>
<ellipse cx="780.0" cy="1255.0" rx="80.0" ry="30.0" fill="#343744" filter="url(#b14)" opacity="0.9"/>
<ellipse cx="1005.0" cy="1130.0" rx="25.0" ry="30.0" fill="#414453" filter="url(#b8)" opacity="0.8"/>
<path d="M891.5 1113.6C901.2 1109.6 920.5 1112.0 933.3 1112.2C946.1 1112.4 959.4 1112.7 968.2 1115.0C977.0 1117.3 981.7 1120.3 986.3 1126.1C991.0 1131.9 993.3 1141.2 996.1 1149.9C998.9 1158.5 1002.4 1168.5 1003.1 1177.8C1003.8 1187.1 1002.6 1196.4 1000.3 1205.7C998.0 1215.0 993.3 1224.7 989.1 1233.6C984.9 1242.4 982.1 1251.9 975.2 1258.7C968.2 1265.4 958.9 1271.5 947.3 1274.0C935.6 1276.6 917.0 1277.3 905.4 1274.0C893.8 1270.8 884.5 1262.4 877.5 1254.5C870.5 1246.6 868.2 1234.7 863.6 1226.6C858.9 1218.4 851.5 1212.6 849.6 1205.7C847.7 1198.7 850.1 1191.7 852.4 1184.7C854.7 1177.8 859.8 1171.9 863.6 1163.8C867.3 1155.7 870.1 1144.3 874.7 1135.9C879.4 1127.5 881.7 1117.5 891.5 1113.6Z" fill="#171921" filter="url(#b8)"/>
<rect x="741.1" y="1112.5" width="274.2" height="161.5" filter="url(#tex)" opacity="0.1"/>
<rect x="741.1" y="1112.5" width="274.2" height="161.5" filter="url(#texd)" opacity="0.18"/>
<path d="M795.3 1145.6C798.3 1145.6 801.8 1145.7 805.1 1147.0C808.3 1148.2 811.6 1150.2 814.8 1153.2C818.1 1156.3 821.1 1161.0 824.6 1165.1C828.1 1169.2 832.5 1173.7 835.8 1177.7C839.0 1181.6 842.0 1185.2 844.1 1188.8C846.2 1192.4 847.9 1195.7 848.3 1199.3C848.8 1202.9 848.1 1207.0 846.9 1210.4C845.8 1213.9 844.1 1217.2 841.3 1220.2C838.6 1223.2 834.1 1226.4 830.2 1228.6C826.2 1230.8 821.8 1232.8 817.6 1233.5C813.4 1234.2 809.3 1233.6 805.1 1232.8C800.9 1232.0 796.5 1230.7 792.5 1228.6C788.6 1226.5 784.6 1223.2 781.4 1220.2C778.1 1217.2 775.3 1213.9 773.0 1210.4C770.7 1207.0 768.7 1203.0 767.4 1199.3C766.1 1195.6 765.4 1192.1 765.3 1188.1C765.2 1184.2 765.8 1179.5 766.7 1175.6C767.6 1171.6 768.9 1168.1 770.9 1164.4C772.9 1160.7 775.9 1156.2 778.6 1153.2C781.2 1150.3 784.1 1148.2 786.9 1147.0C789.7 1145.7 792.3 1145.6 795.3 1145.6Z" fill="#14151c" filter="url(#b2)" opacity="0.7"/>
<path d="M793.8 1143.6C796.8 1143.6 800.3 1143.7 803.6 1145.0C806.8 1146.2 810.1 1148.2 813.3 1151.2C816.6 1154.3 819.6 1159.0 823.1 1163.1C826.6 1167.2 831.0 1171.7 834.3 1175.7C837.5 1179.6 840.5 1183.2 842.6 1186.8C844.7 1190.4 846.4 1193.7 846.8 1197.3C847.3 1200.9 846.6 1205.0 845.4 1208.4C844.3 1211.9 842.6 1215.2 839.8 1218.2C837.1 1221.2 832.6 1224.4 828.7 1226.6C824.7 1228.8 820.3 1230.8 816.1 1231.5C811.9 1232.2 807.8 1231.6 803.6 1230.8C799.4 1230.0 795.0 1228.7 791.0 1226.6C787.1 1224.5 783.1 1221.2 779.9 1218.2C776.6 1215.2 773.8 1211.9 771.5 1208.4C769.2 1205.0 767.2 1201.0 765.9 1197.3C764.6 1193.6 763.9 1190.1 763.8 1186.1C763.7 1182.2 764.3 1177.5 765.2 1173.6C766.1 1169.6 767.4 1166.1 769.4 1162.4C771.4 1158.7 774.4 1154.2 777.1 1151.2C779.7 1148.3 782.6 1146.2 785.4 1145.0C788.2 1143.7 790.8 1143.6 793.8 1143.6Z" fill="#a4595e" filter="url(#b05)"/>
<g clip-path="url(#ob2)">
<ellipse cx="800.0" cy="1180.0" rx="26.0" ry="24.0" fill="#b96e6c" filter="url(#b8)" opacity="0.9"/>
<ellipse cx="780.0" cy="1215.0" rx="30.0" ry="14.0" fill="#8a4147" filter="url(#b4)" opacity="0.8"/>
<ellipse cx="785.0" cy="1168.0" rx="8.0" ry="9.0" fill="#7e3340" filter="url(#b2)" opacity="0.8"/>
<ellipse cx="815.0" cy="1205.0" rx="14.0" ry="8.0" fill="#8e3f48" filter="url(#b2)" opacity="0.7"/>
<ellipse cx="830.0" cy="1186.0" rx="10.0" ry="9.0" fill="#e3b2ae" filter="url(#b2)" opacity="0.85"/>
<ellipse cx="812.0" cy="1158.0" rx="12.0" ry="5.0" fill="#cf928c" filter="url(#b2)" opacity="0.7" transform="rotate(25 812.0 1158.0)"/>
<ellipse cx="770.0" cy="1190.0" rx="8.0" ry="30.0" fill="#96505a" filter="url(#b4)" opacity="0.7"/>
</g>
<ellipse cx="835.0" cy="1187.0" rx="3.5" ry="5.5" fill="#fff0ea" filter="url(#b1)" opacity="0.85" transform="rotate(-20 835.0 1187.0)"/>
<ellipse cx="826.0" cy="1180.0" rx="3.0" ry="2.0" fill="#ffe8e0" filter="url(#b1)" opacity="0.8"/>
<path d="M913.8 1204.3C911.7 1203.3 908.7 1206.4 906.8 1208.4C904.9 1210.5 903.6 1214.0 902.6 1216.8C901.7 1219.6 901.0 1222.6 901.2 1225.2C901.5 1227.7 902.4 1230.8 904.0 1232.2C905.6 1233.6 909.1 1235.0 911.0 1233.6C912.9 1232.2 913.8 1227.0 915.2 1223.8C916.6 1220.5 919.6 1217.3 919.4 1214.0C919.1 1210.8 915.9 1205.2 913.8 1204.3Z" fill="#b9bfc4" filter="url(#b1)"/>
<path d="M931.9 1119.9C936.1 1118.9 940.3 1118.1 944.5 1118.5C948.7 1118.8 953.1 1120.0 957.0 1122.0C961.0 1123.9 964.7 1126.8 968.2 1130.3C971.7 1133.8 975.3 1138.5 978.0 1142.9C980.6 1147.3 982.6 1151.9 984.2 1156.8C985.9 1161.7 987.0 1166.8 987.7 1172.2C988.4 1177.5 988.7 1183.3 988.4 1188.9C988.2 1194.5 987.4 1200.3 986.3 1205.7C985.3 1211.0 984.0 1216.1 982.1 1221.0C980.3 1225.9 977.7 1230.5 975.2 1235.0C972.6 1239.4 970.0 1243.6 966.8 1247.5C963.5 1251.5 959.6 1255.6 955.6 1258.7C951.7 1261.7 947.3 1264.2 943.1 1265.6C938.9 1267.0 934.5 1267.5 930.5 1267.0C926.6 1266.6 922.6 1264.9 919.4 1262.9C916.1 1260.8 913.0 1257.7 911.0 1254.5C909.0 1251.2 908.0 1247.0 907.5 1243.3C907.0 1239.6 907.4 1235.7 908.2 1232.2C909.0 1228.7 910.8 1225.2 912.4 1222.4C914.0 1219.6 916.6 1217.7 918.0 1215.4C919.4 1213.1 920.5 1211.0 920.8 1208.4C921.0 1205.9 920.5 1203.1 919.4 1200.1C918.2 1197.1 916.1 1193.6 913.8 1190.3C911.5 1187.1 907.7 1184.0 905.4 1180.5C903.1 1177.1 901.0 1173.3 899.8 1169.4C898.7 1165.4 898.2 1161.0 898.4 1156.8C898.7 1152.6 899.6 1148.2 901.2 1144.3C902.9 1140.3 905.2 1136.5 908.2 1133.1C911.2 1129.7 915.4 1126.3 919.4 1124.0C923.3 1121.8 927.7 1120.8 931.9 1119.9Z" fill="#e0b29f" filter="url(#b05)"/>
<g clip-path="url(#ob3)">
<ellipse cx="925.0" cy="1150.0" rx="32.0" ry="30.0" fill="#f0cfba" filter="url(#b8)"/>
<ellipse cx="955.0" cy="1215.0" rx="26.0" ry="40.0" fill="#d9a08d" filter="url(#b8)" opacity="0.9"/>
<ellipse cx="945.0" cy="1245.0" rx="28.0" ry="18.0" fill="#e2b09c" filter="url(#b8)" opacity="0.8"/>
<ellipse cx="932.0" cy="1180.0" rx="14.0" ry="8.0" fill="#c9937f" filter="url(#b4)" opacity="0.55" transform="rotate(30 932.0 1180.0)"/>
<ellipse cx="980.0" cy="1180.0" rx="5.0" ry="40.0" fill="#c98f7e" filter="url(#b4)" opacity="0.6"/>
<ellipse cx="912.0" cy="1238.0" rx="6.0" ry="22.0" fill="#e9c4b0" filter="url(#b4)" opacity="0.7"/>
<ellipse cx="948.0" cy="1152.0" rx="10.0" ry="4.0" fill="#ffffff" filter="url(#b1)" opacity="0.9" transform="rotate(35 948.0 1152.0)"/>
<ellipse cx="968.0" cy="1232.0" rx="7.0" ry="3.0" fill="#fff4ee" filter="url(#b1)" opacity="0.8" transform="rotate(20 968.0 1232.0)"/>
<ellipse cx="938.0" cy="1200.0" rx="5.0" ry="2.0" fill="#fff4ee" filter="url(#b1)" opacity="0.7"/>
<ellipse cx="966.0" cy="1168.0" rx="3.0" ry="14.0" fill="#f3d6c6" filter="url(#b2)" opacity="0.7" transform="rotate(-25 966.0 1168.0)"/>
</g>
</g>
<g clip-path="url(#ph4)">
<rect x="741.1" y="1281.9" width="64.8" height="140.9" fill="#5b7ea6"/>
<ellipse cx="790.0" cy="1300.0" rx="30.0" ry="30.0" fill="#6a8cb3" filter="url(#b8)" opacity="0.8"/>
<ellipse cx="760.0" cy="1410.0" rx="40.0" ry="20.0" fill="#55779f" filter="url(#b8)" opacity="0.8"/>
<rect x="741.1" y="1281.9" width="64.8" height="140.9" filter="url(#tex)" opacity="0.12"/>
<rect x="741.1" y="1281.9" width="64.8" height="140.9" filter="url(#texd)" opacity="0.14"/>
<path d="M771.5 1326.4C774.2 1326.4 778.2 1327.1 781.2 1328.5C784.3 1329.9 787.4 1332.1 789.6 1334.8C791.8 1337.5 793.6 1341.3 794.5 1344.6C795.4 1347.8 795.5 1351.1 795.2 1354.3C794.8 1357.6 793.8 1361.3 792.4 1364.1C791.0 1366.9 788.9 1369.4 786.8 1371.1C784.7 1372.7 782.2 1374.1 779.9 1373.9C777.5 1373.6 775.4 1370.8 772.9 1369.7C770.3 1368.5 767.3 1368.1 764.5 1366.9C761.7 1365.7 758.3 1364.6 756.1 1362.7C753.9 1360.8 752.4 1358.1 751.3 1355.7C750.1 1353.4 748.8 1351.3 749.2 1348.8C749.5 1346.2 751.7 1342.9 753.3 1340.4C755.0 1337.8 756.9 1335.4 758.9 1333.4C760.9 1331.4 763.1 1329.7 765.2 1328.5C767.3 1327.4 768.8 1326.4 771.5 1326.4Z" fill="#2b3b55" filter="url(#b2)" opacity="0.7"/>
<path d="M771.5 1325.4C774.2 1325.4 778.2 1326.1 781.2 1327.5C784.3 1328.9 787.4 1331.1 789.6 1333.8C791.8 1336.5 793.6 1340.3 794.5 1343.6C795.4 1346.8 795.5 1350.1 795.2 1353.3C794.8 1356.6 793.8 1360.3 792.4 1363.1C791.0 1365.9 788.9 1368.4 786.8 1370.1C784.7 1371.7 782.2 1373.1 779.9 1372.9C777.5 1372.6 775.4 1369.8 772.9 1368.7C770.3 1367.5 767.3 1367.1 764.5 1365.9C761.7 1364.7 758.3 1363.6 756.1 1361.7C753.9 1359.8 752.4 1357.1 751.3 1354.7C750.1 1352.4 748.8 1350.3 749.2 1347.8C749.5 1345.2 751.7 1341.9 753.3 1339.4C755.0 1336.8 756.9 1334.4 758.9 1332.4C760.9 1330.4 763.1 1328.7 765.2 1327.5C767.3 1326.4 768.8 1325.4 771.5 1325.4Z" fill="#100e12" filter="url(#b05)"/>
<g clip-path="url(#ob5)">
<ellipse cx="785.0" cy="1362.0" rx="9.0" ry="8.0" fill="#4a2422" filter="url(#b2)" opacity="0.9"/>
<ellipse cx="768.0" cy="1345.0" rx="12.0" ry="5.0" fill="#3c444c" filter="url(#b2)" opacity="0.8" transform="rotate(20 768.0 1345.0)"/>
<ellipse cx="782.0" cy="1358.0" rx="3.0" ry="2.0" fill="#e8eef0" filter="url(#b05)" opacity="0.9" transform="rotate(-30 782.0 1358.0)"/>
<ellipse cx="776.0" cy="1350.0" rx="4.0" ry="1.5" fill="#9aa6ac" filter="url(#b1)" opacity="0.7" transform="rotate(30 776.0 1350.0)"/>
</g>
</g>
<g clip-path="url(#ph6)">
<rect x="812.9" y="1281.9" width="202.4" height="140.9" fill="#282a39"/>
<ellipse cx="850.0" cy="1300.0" rx="50.0" ry="25.0" fill="#2f3242" filter="url(#b14)" opacity="0.9"/>
<ellipse cx="900.0" cy="1410.0" rx="90.0" ry="18.0" fill="#2a2d3c" filter="url(#b14)" opacity="0.9"/>
<path d="M933.3 1294.7C940.3 1291.0 951.9 1290.8 961.2 1290.6C970.5 1290.3 982.1 1290.3 989.1 1293.3C996.1 1296.4 1000.3 1301.9 1003.1 1308.7C1005.9 1315.4 1005.9 1325.0 1005.9 1333.8C1005.9 1342.6 1003.1 1352.4 1003.1 1361.7C1003.1 1371.0 1007.0 1382.6 1005.9 1389.6C1004.7 1396.6 1002.4 1399.4 996.1 1403.6C989.8 1407.7 978.7 1413.3 968.2 1414.7C957.7 1416.1 943.1 1413.8 933.3 1411.9C923.5 1410.1 913.8 1407.7 909.6 1403.6C905.4 1399.4 906.6 1392.6 908.2 1386.8C909.8 1381.0 917.7 1376.4 919.4 1368.7C921.0 1361.0 918.0 1350.1 918.0 1340.8C918.0 1331.5 916.8 1320.6 919.4 1312.9C921.9 1305.2 926.3 1298.5 933.3 1294.7Z" fill="#0e0f15" filter="url(#b8)"/>
<rect x="812.9" y="1281.9" width="202.4" height="140.9" filter="url(#tex)" opacity="0.07"/>
<rect x="812.9" y="1281.9" width="202.4" height="140.9" filter="url(#texd)" opacity="0.15"/>
<path d="M864.6 1310.9C868.0 1310.8 873.2 1310.7 877.1 1311.6C881.1 1312.5 884.8 1314.1 888.3 1316.5C891.8 1318.8 895.5 1322.2 898.0 1325.5C900.6 1328.9 902.3 1333.0 903.6 1336.7C904.9 1340.4 905.8 1344.1 905.7 1347.9C905.6 1351.6 904.4 1355.3 902.9 1359.0C901.4 1362.7 899.3 1366.9 896.6 1370.2C894.0 1373.4 890.6 1376.6 886.9 1378.6C883.2 1380.5 878.5 1381.8 874.3 1382.0C870.1 1382.3 866.0 1381.2 861.8 1379.9C857.6 1378.7 853.2 1376.7 849.2 1374.4C845.3 1372.0 841.2 1369.0 838.1 1366.0C834.9 1363.0 832.2 1359.7 830.4 1356.2C828.5 1352.7 827.2 1348.8 826.9 1345.1C826.5 1341.3 826.9 1337.6 828.3 1333.9C829.7 1330.2 832.2 1325.9 835.3 1322.7C838.3 1319.6 842.9 1316.9 846.4 1315.1C849.9 1313.3 853.2 1312.6 856.2 1311.9C859.2 1311.2 861.1 1310.9 864.6 1310.9Z" fill="#0c0d12" filter="url(#b2)" opacity="0.8"/>
<path d="M863.6 1309.4C867.0 1309.3 872.2 1309.2 876.1 1310.1C880.1 1311.0 883.8 1312.6 887.3 1315.0C890.8 1317.3 894.5 1320.7 897.0 1324.0C899.6 1327.4 901.3 1331.5 902.6 1335.2C903.9 1338.9 904.8 1342.6 904.7 1346.4C904.6 1350.1 903.4 1353.8 901.9 1357.5C900.4 1361.2 898.3 1365.4 895.6 1368.7C893.0 1371.9 889.6 1375.1 885.9 1377.1C882.2 1379.0 877.5 1380.3 873.3 1380.5C869.1 1380.8 865.0 1379.7 860.8 1378.4C856.6 1377.2 852.2 1375.2 848.2 1372.9C844.3 1370.5 840.2 1367.5 837.1 1364.5C833.9 1361.5 831.2 1358.2 829.4 1354.7C827.5 1351.2 826.2 1347.3 825.9 1343.6C825.5 1339.8 825.9 1336.1 827.3 1332.4C828.7 1328.7 831.2 1324.4 834.3 1321.2C837.3 1318.1 841.9 1315.4 845.4 1313.6C848.9 1311.8 852.2 1311.1 855.2 1310.4C858.2 1309.7 860.1 1309.4 863.6 1309.4Z" fill="#ad635b" filter="url(#b05)"/>
<g clip-path="url(#ob7)">
<ellipse cx="865.0" cy="1335.0" rx="30.0" ry="22.0" fill="#c17f72" filter="url(#b8)" opacity="0.9"/>
<ellipse cx="855.0" cy="1365.0" rx="30.0" ry="10.0" fill="#8c4540" filter="url(#b4)" opacity="0.8"/>
<ellipse cx="838.0" cy="1345.0" rx="6.0" ry="25.0" fill="#93504a" filter="url(#b4)" opacity="0.7"/>
<ellipse cx="862.0" cy="1355.0" rx="9.0" ry="7.0" fill="#963f40" filter="url(#b2)" opacity="0.7"/>
<ellipse cx="878.0" cy="1343.0" rx="12.0" ry="8.0" fill="#e9c2b6" filter="url(#b2)" opacity="0.85" transform="rotate(20 878.0 1343.0)"/>
<ellipse cx="882.0" cy="1357.0" rx="6.0" ry="4.0" fill="#f1d2c8" filter="url(#b1)" opacity="0.8" transform="rotate(-30 882.0 1357.0)"/>
<ellipse cx="870.0" cy="1318.0" rx="16.0" ry="5.0" fill="#b5655c" filter="url(#b2)" opacity="0.7"/>
</g>
<path d="M947.3 1303.1C951.0 1302.9 956.6 1303.3 961.2 1303.8C965.9 1304.3 971.0 1304.6 975.2 1305.9C979.4 1307.2 983.5 1309.2 986.3 1311.5C989.1 1313.8 990.7 1316.8 991.9 1319.9C993.1 1322.9 994.0 1326.8 993.3 1329.6C992.6 1332.4 989.6 1334.0 987.7 1336.6C985.9 1339.2 983.5 1341.7 982.1 1345.0C980.7 1348.2 979.6 1352.4 979.4 1356.1C979.1 1359.8 979.4 1364.5 980.7 1367.3C982.1 1370.1 985.4 1370.8 987.7 1372.9C990.0 1375.0 993.3 1377.3 994.7 1379.8C996.1 1382.4 997.0 1385.9 996.1 1388.2C995.2 1390.5 991.7 1391.9 989.1 1393.8C986.6 1395.7 983.5 1397.7 980.7 1399.4C978.0 1401.0 975.6 1402.4 972.4 1403.6C969.1 1404.7 964.9 1406.0 961.2 1406.3C957.5 1406.7 953.8 1406.3 950.1 1405.7C946.3 1405.0 942.1 1403.7 938.9 1402.2C935.6 1400.7 932.8 1397.7 930.5 1396.6C928.2 1395.4 927.0 1395.0 924.9 1395.2C922.8 1395.4 919.8 1398.2 918.0 1398.0C916.1 1397.7 913.8 1395.4 913.8 1393.8C913.8 1392.2 915.9 1389.8 918.0 1388.2C920.1 1386.6 924.0 1386.1 926.3 1384.0C928.7 1381.9 930.5 1378.9 931.9 1375.7C933.3 1372.4 934.5 1368.2 934.7 1364.5C934.9 1360.8 934.5 1357.1 933.3 1353.3C932.1 1349.6 929.1 1345.9 927.7 1342.2C926.3 1338.5 925.2 1334.7 924.9 1331.0C924.7 1327.3 925.2 1323.3 926.3 1319.9C927.5 1316.4 929.8 1312.5 931.9 1310.1C934.0 1307.6 936.3 1306.4 938.9 1305.2C941.5 1304.0 943.5 1303.3 947.3 1303.1Z" fill="#dcb2a4" filter="url(#b05)"/>
<g clip-path="url(#ob8)">
<ellipse cx="955.0" cy="1322.0" rx="30.0" ry="16.0" fill="#ead2c8" filter="url(#b4)" opacity="0.9"/>
<ellipse cx="960.0" cy="1380.0" rx="28.0" ry="20.0" fill="#d9a496" filter="url(#b8)" opacity="0.9"/>
<ellipse cx="990.0" cy="1330.0" rx="6.0" ry="16.0" fill="#e9e3df" filter="url(#b2)" opacity="0.8"/>
<ellipse cx="962.0" cy="1335.0" rx="9.0" ry="3.0" fill="#ffffff" filter="url(#b1)" opacity="0.85" transform="rotate(-25 962.0 1335.0)"/>
<ellipse cx="968.0" cy="1375.0" rx="5.0" ry="2.0" fill="#ffffff" filter="url(#b1)" opacity="0.8" transform="rotate(25 968.0 1375.0)"/>
<ellipse cx="972.0" cy="1384.0" rx="5.0" ry="1.5" fill="#fff" filter="url(#b1)" opacity="0.7" transform="rotate(-20 972.0 1384.0)"/>
<ellipse cx="925.0" cy="1396.0" rx="8.0" ry="4.0" fill="#e8d5c8" filter="url(#b2)" opacity="0.8"/>
</g>
<ellipse cx="988.0" cy="1362.0" rx="7.0" ry="6.0" fill="#0b0b10" filter="url(#b2)" opacity="0.9"/>
</g>
<g clip-path="url(#ph9)">
<rect x="1023.2" y="1111.5" width="320.2" height="310.5" fill="#474c59"/>
<ellipse cx="1100.0" cy="1150.0" rx="90.0" ry="50.0" fill="#505562" filter="url(#b14)" opacity="0.9"/>
<ellipse cx="1180.0" cy="1400.0" rx="160.0" ry="25.0" fill="#42464f" filter="url(#b14)" opacity="0.9"/>
<rect x="1023.2" y="1111.5" width="320.2" height="310.5" filter="url(#tex)" opacity="0.13"/>
<rect x="1023.2" y="1111.5" width="320.2" height="310.5" filter="url(#texd)" opacity="0.16"/>
<path d="M1048.5 1270.5C1048.6 1266.4 1049.3 1261.4 1050.9 1256.7C1052.6 1252.0 1055.1 1246.7 1058.2 1242.1C1061.4 1237.5 1065.3 1232.9 1069.6 1229.1C1073.9 1225.3 1079.4 1221.5 1084.2 1219.3C1089.1 1217.2 1094.0 1216.2 1098.8 1216.1C1103.7 1216.0 1109.1 1216.9 1113.5 1218.5C1117.8 1220.1 1121.6 1222.7 1124.8 1225.8C1128.1 1228.9 1131.1 1233.1 1133.0 1237.2C1134.9 1241.3 1135.5 1244.7 1136.2 1250.2C1136.9 1255.8 1136.8 1265.8 1137.0 1270.5C1137.3 1275.2 1138.0 1274.8 1137.8 1278.2C1137.7 1281.7 1137.0 1286.9 1136.2 1291.2C1135.4 1295.6 1134.9 1300.4 1133.0 1304.2C1131.1 1308.0 1128.1 1311.3 1124.8 1314.0C1121.6 1316.7 1117.8 1319.0 1113.5 1320.5C1109.1 1322.0 1104.0 1323.2 1098.8 1322.9C1093.7 1322.6 1087.7 1321.2 1082.6 1318.9C1077.5 1316.6 1072.3 1312.9 1068.0 1309.1C1063.7 1305.3 1059.6 1300.7 1056.6 1296.1C1053.6 1291.5 1051.5 1285.8 1050.1 1281.5C1048.8 1277.2 1048.4 1274.6 1048.5 1270.5Z" fill="#16171c" filter="url(#b2)" opacity="0.75"/>
<path d="M1046.0 1268.0C1046.1 1263.9 1046.8 1258.9 1048.4 1254.2C1050.1 1249.5 1052.6 1244.2 1055.7 1239.6C1058.9 1235.0 1062.8 1230.4 1067.1 1226.6C1071.4 1222.8 1076.9 1219.0 1081.7 1216.8C1086.6 1214.7 1091.5 1213.7 1096.3 1213.6C1101.2 1213.5 1106.6 1214.4 1111.0 1216.0C1115.3 1217.6 1119.1 1220.2 1122.3 1223.3C1125.6 1226.4 1128.6 1230.6 1130.5 1234.7C1132.4 1238.8 1133.0 1242.2 1133.7 1247.7C1134.4 1253.3 1134.3 1263.3 1134.5 1268.0C1134.8 1272.7 1135.5 1272.3 1135.3 1275.7C1135.2 1279.2 1134.5 1284.4 1133.7 1288.7C1132.9 1293.1 1132.4 1297.9 1130.5 1301.7C1128.6 1305.5 1125.6 1308.8 1122.3 1311.5C1119.1 1314.2 1115.3 1316.5 1111.0 1318.0C1106.6 1319.5 1101.5 1320.7 1096.3 1320.4C1091.2 1320.1 1085.2 1318.7 1080.1 1316.4C1075.0 1314.1 1069.8 1310.4 1065.5 1306.6C1061.2 1302.8 1057.1 1298.2 1054.1 1293.6C1051.1 1289.0 1049.0 1283.3 1047.6 1279.0C1046.3 1274.7 1045.9 1272.1 1046.0 1268.0Z" fill="#a93743" filter="url(#b05)"/>
<g clip-path="url(#ob10)">
<ellipse cx="1090.0" cy="1262.0" rx="30.0" ry="34.0" fill="#bf4a54" filter="url(#b8)" opacity="0.9"/>
<ellipse cx="1075.0" cy="1300.0" rx="30.0" ry="14.0" fill="#8f2a36" filter="url(#b4)" opacity="0.8"/>
<ellipse cx="1052.0" cy="1270.0" rx="7.0" ry="40.0" fill="#98303c" filter="url(#b4)" opacity="0.8"/>
<ellipse cx="1095.0" cy="1283.0" rx="9.0" ry="7.0" fill="#9a2c38" filter="url(#b2)" opacity="0.8"/>
<ellipse cx="1100.0" cy="1262.0" rx="14.0" ry="10.0" fill="#e58c8a" filter="url(#b2)" opacity="0.8"/>
<ellipse cx="1070.0" cy="1258.0" rx="7.0" ry="6.0" fill="#ec9c90" filter="url(#b2)" opacity="0.7"/>
<ellipse cx="1100.0" cy="1236.0" rx="3.0" ry="3.0" fill="#f0b0a0" filter="url(#b1)" opacity="0.8"/>
<ellipse cx="1118.0" cy="1250.0" rx="4.0" ry="30.0" fill="#c24a52" filter="url(#b2)" opacity="0.6"/>
</g>
<path d="M1209.7 1238.3C1207.5 1235.2 1206.7 1228.9 1204.8 1223.7C1202.9 1218.6 1199.9 1212.9 1198.3 1207.5C1196.7 1202.1 1195.3 1196.6 1195.1 1191.2C1194.8 1185.8 1195.3 1179.9 1196.7 1175.0C1198.0 1170.1 1200.5 1165.8 1203.2 1162.0C1205.9 1158.2 1209.1 1154.8 1212.9 1152.2C1216.7 1149.7 1221.3 1147.8 1225.9 1146.5C1230.5 1145.3 1235.7 1144.8 1240.5 1144.9C1245.4 1145.1 1250.6 1145.9 1255.2 1147.4C1259.8 1148.9 1264.1 1151.2 1268.2 1153.9C1272.2 1156.6 1276.3 1160.1 1279.5 1163.6C1282.8 1167.1 1285.2 1170.9 1287.7 1175.0C1290.1 1179.0 1292.5 1183.6 1294.2 1188.0C1295.8 1192.3 1296.0 1196.6 1297.4 1201.0C1298.8 1205.3 1300.7 1209.6 1302.3 1214.0C1303.9 1218.3 1305.8 1222.6 1307.1 1227.0C1308.5 1231.3 1309.9 1235.1 1310.4 1240.0C1310.9 1244.8 1311.2 1251.5 1310.4 1256.2C1309.6 1260.9 1306.9 1263.3 1305.5 1268.0C1304.2 1272.7 1303.6 1278.8 1302.3 1284.2C1300.9 1289.7 1298.8 1295.1 1297.4 1300.5C1296.0 1305.9 1295.8 1311.3 1294.2 1316.7C1292.5 1322.1 1290.6 1328.4 1287.7 1333.0C1284.7 1337.6 1280.6 1341.4 1276.3 1344.3C1272.0 1347.3 1265.7 1348.4 1261.7 1350.8C1257.6 1353.3 1254.1 1355.4 1251.9 1359.0C1249.8 1362.5 1250.0 1368.2 1248.7 1372.0C1247.3 1375.8 1246.2 1379.1 1243.8 1381.7C1241.4 1384.3 1236.9 1386.7 1234.0 1387.4C1231.2 1388.1 1228.4 1387.5 1226.7 1385.8C1225.1 1384.0 1224.4 1380.8 1224.3 1376.8C1224.2 1372.9 1225.1 1367.4 1225.9 1362.2C1226.7 1357.1 1227.6 1351.4 1229.2 1346.0C1230.8 1340.6 1233.2 1334.9 1235.7 1329.7C1238.1 1324.6 1241.9 1320.0 1243.8 1315.1C1245.7 1310.2 1247.3 1305.6 1247.0 1300.5C1246.8 1295.3 1244.1 1289.7 1242.2 1284.2C1240.3 1278.8 1237.3 1271.9 1235.7 1268.0C1234.0 1264.1 1233.2 1263.6 1232.4 1261.1C1231.6 1258.6 1231.9 1255.4 1230.8 1252.9C1229.7 1250.5 1228.1 1248.2 1225.9 1246.5C1223.8 1244.7 1220.5 1243.7 1217.8 1242.4C1215.1 1241.0 1211.8 1241.4 1209.7 1238.3Z" fill="#1a1b20" filter="url(#b2)" opacity="0.6"/>
<path d="M1211.7 1236.3C1209.5 1233.2 1208.7 1226.9 1206.8 1221.7C1204.9 1216.6 1201.9 1210.9 1200.3 1205.5C1198.7 1200.1 1197.3 1194.6 1197.1 1189.2C1196.8 1183.8 1197.3 1177.9 1198.7 1173.0C1200.0 1168.1 1202.5 1163.8 1205.2 1160.0C1207.9 1156.2 1211.1 1152.8 1214.9 1150.2C1218.7 1147.7 1223.3 1145.8 1227.9 1144.5C1232.5 1143.3 1237.7 1142.8 1242.5 1142.9C1247.4 1143.1 1252.6 1143.9 1257.2 1145.4C1261.8 1146.9 1266.1 1149.2 1270.2 1151.9C1274.2 1154.6 1278.3 1158.1 1281.5 1161.6C1284.8 1165.1 1287.2 1168.9 1289.7 1173.0C1292.1 1177.0 1294.5 1181.6 1296.2 1186.0C1297.8 1190.3 1298.0 1194.6 1299.4 1199.0C1300.8 1203.3 1302.7 1207.6 1304.3 1212.0C1305.9 1216.3 1307.8 1220.6 1309.1 1225.0C1310.5 1229.3 1311.9 1233.1 1312.4 1238.0C1312.9 1242.8 1313.2 1249.5 1312.4 1254.2C1311.6 1258.9 1308.9 1261.3 1307.5 1266.0C1306.2 1270.7 1305.6 1276.8 1304.3 1282.2C1302.9 1287.7 1300.8 1293.1 1299.4 1298.5C1298.0 1303.9 1297.8 1309.3 1296.2 1314.7C1294.5 1320.1 1292.6 1326.4 1289.7 1331.0C1286.7 1335.6 1282.6 1339.4 1278.3 1342.3C1274.0 1345.3 1267.7 1346.4 1263.7 1348.8C1259.6 1351.3 1256.1 1353.4 1253.9 1357.0C1251.8 1360.5 1252.0 1366.2 1250.7 1370.0C1249.3 1373.8 1248.2 1377.1 1245.8 1379.7C1243.4 1382.3 1238.9 1384.7 1236.0 1385.4C1233.2 1386.1 1230.4 1385.5 1228.7 1383.8C1227.1 1382.0 1226.4 1378.8 1226.3 1374.8C1226.2 1370.9 1227.1 1365.4 1227.9 1360.2C1228.7 1355.1 1229.6 1349.4 1231.2 1344.0C1232.8 1338.6 1235.2 1332.9 1237.7 1327.7C1240.1 1322.6 1243.9 1318.0 1245.8 1313.1C1247.7 1308.2 1249.3 1303.6 1249.0 1298.5C1248.8 1293.3 1246.1 1287.7 1244.2 1282.2C1242.3 1276.8 1239.3 1269.9 1237.7 1266.0C1236.0 1262.1 1235.2 1261.6 1234.4 1259.1C1233.6 1256.6 1233.9 1253.4 1232.8 1250.9C1231.7 1248.5 1230.1 1246.2 1227.9 1244.5C1225.8 1242.7 1222.5 1241.7 1219.8 1240.4C1217.1 1239.0 1213.8 1239.4 1211.7 1236.3Z" fill="#cb544e" filter="url(#b05)"/>
<g clip-path="url(#ob11)">
<ellipse cx="1225.0" cy="1175.0" rx="32.0" ry="30.0" fill="#dd5f5c" filter="url(#b8)"/>
<ellipse cx="1212.0" cy="1190.0" rx="14.0" ry="22.0" fill="#ee9078" filter="url(#b4)" opacity="0.8"/>
<ellipse cx="1265.0" cy="1180.0" rx="16.0" ry="22.0" fill="#8f2228" filter="url(#b4)" opacity="0.85" transform="rotate(-30 1265.0 1180.0)"/>
<ellipse cx="1275.0" cy="1280.0" rx="28.0" ry="50.0" fill="#cc5e4e" filter="url(#b8)" opacity="0.9"/>
<ellipse cx="1262.0" cy="1262.0" rx="10.0" ry="30.0" fill="#e07a60" filter="url(#b4)" opacity="0.6" transform="rotate(15 1262.0 1262.0)"/>
<ellipse cx="1298.0" cy="1270.0" rx="5.0" ry="50.0" fill="#a8382e" filter="url(#b4)" opacity="0.7" transform="rotate(10 1298.0 1270.0)"/>
<ellipse cx="1245.0" cy="1360.0" rx="14.0" ry="26.0" fill="#c25a48" filter="url(#b4)" opacity="0.8" transform="rotate(20 1245.0 1360.0)"/>
<ellipse cx="1232.0" cy="1378.0" rx="5.0" ry="8.0" fill="#7a2a24" filter="url(#b2)" opacity="0.7"/>
<ellipse cx="1268.0" cy="1200.0" rx="9.0" ry="15.0" fill="#e9c4cc" filter="url(#b1)" opacity="0.9" transform="rotate(-35 1268.0 1200.0)"/>
<ellipse cx="1258.0" cy="1222.0" rx="6.0" ry="10.0" fill="#efb898" filter="url(#b1)" opacity="0.8" transform="rotate(30 1258.0 1222.0)"/>
<ellipse cx="1285.0" cy="1250.0" rx="8.0" ry="8.0" fill="#f0b8a8" filter="url(#b2)" opacity="0.7"/>
<ellipse cx="1270.0" cy="1310.0" rx="12.0" ry="4.0" fill="#f1c0a4" filter="url(#b1)" opacity="0.8" transform="rotate(-25 1270.0 1310.0)"/>
<ellipse cx="1255.0" cy="1328.0" rx="10.0" ry="3.0" fill="#f1c0a4" filter="url(#b1)" opacity="0.7" transform="rotate(20 1255.0 1328.0)"/>
</g>
</g>
<g clip-path="url(#ph12)">
<rect x="1352.8" y="1071.7" width="640.3" height="369.7" fill="#4d5058"/>
<ellipse cx="1500.0" cy="1110.0" rx="160.0" ry="50.0" fill="#565961" filter="url(#b14)" opacity="0.9"/>
<ellipse cx="1850.0" cy="1120.0" rx="150.0" ry="50.0" fill="#53565e" filter="url(#b14)" opacity="0.9"/>
<ellipse cx="1450.0" cy="1400.0" rx="120.0" ry="50.0" fill="#44474f" filter="url(#b14)" opacity="0.9"/>
<ellipse cx="1750.0" cy="1420.0" rx="200.0" ry="30.0" fill="#3f424a" filter="url(#b14)" opacity="0.9"/>
<rect x="1352.8" y="1071.7" width="640.3" height="369.7" filter="url(#tex)" opacity="0.13"/>
<rect x="1352.8" y="1071.7" width="640.3" height="369.7" filter="url(#texd)" opacity="0.16"/>
<ellipse cx="1428.1" cy="1214.0" rx="55.0" ry="51.0" fill="#1e1f24" filter="url(#b2)" opacity="0.8"/>
<ellipse cx="1426.1" cy="1210.5" rx="55" ry="51" fill="#7c2c38" filter="url(#b05)"/>
<g clip-path="url(#ob13)">
<ellipse cx="1420.0" cy="1215.0" rx="36.0" ry="32.0" fill="#963a44" filter="url(#b8)" opacity="0.9"/>
<ellipse cx="1412.0" cy="1220.0" rx="14.0" ry="18.0" fill="#b0424a" filter="url(#b4)" opacity="0.8"/>
<ellipse cx="1450.0" cy="1215.0" rx="14.0" ry="30.0" fill="#8a3c50" filter="url(#b4)" opacity="0.6"/>
<ellipse cx="1385.0" cy="1210.0" rx="8.0" ry="35.0" fill="#64202c" filter="url(#b4)" opacity="0.8"/>
<ellipse cx="1430.0" cy="1252.0" rx="40.0" ry="8.0" fill="#5c1c28" filter="url(#b4)" opacity="0.8"/>
<ellipse cx="1410.0" cy="1196.0" rx="13.0" ry="7.0" fill="#f3b6b0" filter="url(#b1)" opacity="0.9" transform="rotate(25 1410.0 1196.0)"/>
<ellipse cx="1436.0" cy="1206.0" rx="20.0" ry="2.5" fill="#f5c8c0" filter="url(#b1)" opacity="0.85" transform="rotate(28 1436.0 1206.0)"/>
<ellipse cx="1452.0" cy="1223.0" rx="7.0" ry="2.0" fill="#f5c8c0" filter="url(#b1)" opacity="0.8" transform="rotate(-15 1452.0 1223.0)"/>
<ellipse cx="1412.0" cy="1208.0" rx="5.0" ry="3.0" fill="#e89a98" filter="url(#b1)" opacity="0.8"/>
</g>
<path d="M1531.8 1167.7C1531.4 1164.4 1532.3 1159.7 1532.6 1156.1C1532.9 1152.6 1532.2 1149.8 1533.4 1146.3C1534.7 1142.7 1536.7 1137.6 1540.0 1134.8C1543.3 1131.9 1547.7 1130.2 1553.2 1129.0C1558.6 1127.8 1566.3 1127.6 1572.9 1127.4C1579.5 1127.1 1586.1 1127.0 1592.6 1127.4C1599.2 1127.8 1606.1 1128.1 1612.4 1129.8C1618.7 1131.6 1625.0 1134.5 1630.4 1138.1C1635.9 1141.6 1641.1 1146.6 1645.2 1151.2C1649.4 1155.9 1652.5 1160.8 1655.1 1166.0C1657.7 1171.2 1659.6 1176.7 1660.9 1182.4C1662.1 1188.2 1662.5 1194.2 1662.5 1200.5C1662.5 1206.8 1661.8 1213.7 1660.9 1220.3C1659.9 1226.8 1658.5 1233.9 1656.8 1240.0C1655.0 1246.1 1651.7 1251.4 1650.2 1257.0C1648.7 1262.6 1648.3 1268.0 1647.7 1273.4C1647.2 1278.9 1647.2 1284.4 1646.9 1289.9C1646.6 1295.4 1646.5 1300.8 1646.1 1306.3C1645.7 1311.8 1645.4 1317.3 1644.4 1322.8C1643.5 1328.2 1642.1 1333.7 1640.3 1339.2C1638.5 1344.7 1636.5 1350.2 1633.7 1355.7C1631.0 1361.1 1628.0 1366.9 1623.9 1372.1C1619.8 1377.3 1614.3 1382.8 1609.1 1386.9C1603.9 1391.0 1598.1 1393.9 1592.6 1396.8C1587.1 1399.6 1581.7 1402.4 1576.2 1404.2C1570.7 1405.9 1565.2 1406.8 1559.7 1407.4C1554.3 1408.1 1548.8 1408.5 1543.3 1408.3C1537.8 1408.0 1532.3 1407.2 1526.9 1405.8C1521.4 1404.4 1514.8 1402.4 1510.4 1400.0C1506.0 1397.7 1502.5 1395.4 1500.6 1391.8C1498.6 1388.3 1498.8 1383.6 1498.9 1378.7C1499.0 1373.7 1500.6 1367.2 1501.4 1362.2C1502.2 1357.3 1502.3 1353.5 1503.8 1349.1C1505.3 1344.7 1508.2 1339.5 1510.4 1335.9C1512.6 1332.4 1515.1 1330.4 1517.0 1327.7C1518.9 1325.0 1520.3 1322.8 1521.9 1319.5C1523.6 1316.2 1524.7 1311.4 1526.9 1308.0C1529.1 1304.5 1532.3 1300.7 1535.1 1298.9C1537.8 1297.1 1542.4 1299.1 1543.3 1297.3C1544.2 1295.5 1540.6 1291.4 1540.3 1288.2C1540.1 1285.1 1540.6 1281.7 1541.7 1278.4C1542.7 1275.1 1545.2 1272.2 1546.6 1268.5C1548.0 1264.9 1548.2 1260.1 1549.9 1256.4C1551.5 1252.8 1554.8 1249.3 1556.5 1246.6C1558.1 1243.8 1558.1 1242.5 1559.7 1240.0C1561.4 1237.5 1564.1 1234.8 1566.3 1231.8C1568.5 1228.8 1571.5 1225.5 1572.9 1221.9C1574.3 1218.3 1575.4 1214.2 1574.5 1210.4C1573.7 1206.6 1571.0 1202.2 1568.0 1198.9C1565.0 1195.6 1560.6 1193.1 1556.5 1190.7C1552.3 1188.2 1546.9 1186.6 1543.3 1184.1C1539.7 1181.6 1537.0 1178.6 1535.1 1175.9C1533.2 1173.1 1532.2 1170.9 1531.8 1167.7Z" fill="#1c1d22" filter="url(#b2)" opacity="0.7"/>
<path d="M1560.7 1242.8C1559.4 1238.4 1549.8 1234.6 1544.3 1231.3C1538.8 1228.0 1533.3 1225.0 1527.9 1223.1C1522.4 1221.1 1516.1 1220.2 1511.4 1219.8C1506.8 1219.4 1502.9 1219.8 1499.9 1220.6C1496.9 1221.4 1494.3 1222.9 1493.3 1224.7C1492.4 1226.5 1492.5 1228.8 1494.2 1231.3C1495.8 1233.7 1499.0 1237.3 1503.2 1239.5C1507.4 1241.7 1514.7 1243.1 1519.6 1244.4C1524.6 1245.8 1528.7 1246.1 1532.8 1247.7C1536.9 1249.4 1541.0 1252.6 1544.3 1254.3C1547.6 1255.9 1549.8 1259.5 1552.5 1257.6C1555.3 1255.7 1562.1 1247.2 1560.7 1242.8Z" fill="#1c1d22" filter="url(#b2)" opacity="0.7"/>
<path d="M1469.8 1290.9C1468.3 1291.5 1463.8 1293.7 1461.6 1296.6C1459.4 1299.5 1457.6 1304.0 1456.7 1308.1C1455.7 1312.2 1455.3 1316.3 1455.8 1321.3C1456.4 1326.2 1457.9 1332.2 1459.9 1337.7C1462.0 1343.2 1465.2 1348.9 1468.2 1354.2C1471.2 1359.4 1474.5 1364.3 1478.0 1368.9C1481.6 1373.6 1485.7 1378.3 1489.5 1382.1C1493.4 1385.9 1497.5 1389.2 1501.1 1392.0C1504.6 1394.7 1509.8 1399.4 1510.9 1398.5C1512.0 1397.7 1509.3 1390.3 1507.6 1387.0C1506.0 1383.7 1503.2 1381.3 1501.1 1378.8C1498.9 1376.3 1496.9 1375.3 1494.5 1372.2C1492.0 1369.2 1489.0 1364.8 1486.3 1360.7C1483.5 1356.6 1480.5 1352.0 1478.0 1347.6C1475.6 1343.2 1473.2 1338.8 1471.5 1334.4C1469.7 1330.0 1468.3 1325.1 1467.3 1321.3C1466.4 1317.4 1465.6 1315.0 1465.7 1311.4C1465.8 1307.8 1467.0 1303.0 1467.8 1299.9C1468.7 1296.8 1470.3 1294.5 1470.6 1293.0C1471.0 1291.5 1471.3 1290.2 1469.8 1290.9Z" fill="#1c1d22" filter="url(#b2)" opacity="0.6"/>
<path d="M1471.3 1289.4C1469.8 1290.0 1465.3 1292.2 1463.1 1295.1C1460.9 1298.0 1459.1 1302.5 1458.2 1306.6C1457.2 1310.7 1456.8 1314.8 1457.3 1319.8C1457.9 1324.7 1459.4 1330.7 1461.4 1336.2C1463.5 1341.7 1466.7 1347.4 1469.7 1352.7C1472.7 1357.9 1476.0 1362.8 1479.5 1367.4C1483.1 1372.1 1487.2 1376.8 1491.0 1380.6C1494.9 1384.4 1499.0 1387.7 1502.6 1390.5C1506.1 1393.2 1511.3 1397.9 1512.4 1397.0C1513.5 1396.2 1510.8 1388.8 1509.1 1385.5C1507.5 1382.2 1504.7 1379.8 1502.6 1377.3C1500.4 1374.8 1498.4 1373.8 1496.0 1370.7C1493.5 1367.7 1490.5 1363.3 1487.8 1359.2C1485.0 1355.1 1482.0 1350.5 1479.5 1346.1C1477.1 1341.7 1474.7 1337.3 1473.0 1332.9C1471.2 1328.5 1469.8 1323.6 1468.8 1319.8C1467.9 1315.9 1467.1 1313.5 1467.2 1309.9C1467.3 1306.3 1468.5 1301.5 1469.3 1298.4C1470.2 1295.3 1471.8 1293.0 1472.1 1291.5C1472.5 1290.0 1472.8 1288.7 1471.3 1289.4Z" fill="#c98d92" filter="url(#b05)"/>
<g clip-path="url(#ob14)">
<ellipse cx="1462.0" cy="1330.0" rx="2.5" ry="45.0" fill="#e8c4c0" filter="url(#b1)" opacity="0.8" transform="rotate(-28 1462.0 1330.0)"/>
<ellipse cx="1475.0" cy="1360.0" rx="4.0" ry="30.0" fill="#b06a74" filter="url(#b2)" opacity="0.7" transform="rotate(-38 1475.0 1360.0)"/>
</g>
<path d="M1469.7 1311.5C1470.8 1309.9 1476.5 1310.7 1479.5 1311.5C1482.6 1312.4 1485.6 1317.0 1487.8 1316.5C1489.9 1315.9 1490.5 1310.2 1492.7 1308.3C1494.9 1306.3 1498.2 1305.2 1500.9 1305.0C1503.7 1304.7 1507.2 1305.0 1509.1 1306.6C1511.0 1308.3 1511.5 1312.1 1512.4 1314.8C1513.4 1317.6 1515.2 1320.0 1514.9 1323.1C1514.6 1326.1 1512.0 1329.1 1510.8 1332.9C1509.5 1336.8 1508.3 1341.7 1507.5 1346.1C1506.7 1350.5 1506.7 1354.8 1505.8 1359.2C1505.0 1363.6 1504.2 1371.3 1502.6 1372.4C1500.9 1373.5 1498.4 1369.6 1496.0 1365.8C1493.5 1362.0 1490.5 1354.8 1487.8 1349.4C1485.0 1343.9 1482.0 1337.6 1479.5 1332.9C1477.1 1328.3 1474.6 1325.0 1473.0 1321.4C1471.3 1317.8 1468.6 1313.2 1469.7 1311.5Z" fill="#c48088" filter="url(#b05)"/>
<g clip-path="url(#ob15)">
<ellipse cx="1490.0" cy="1320.0" rx="10.0" ry="8.0" fill="#d09098" filter="url(#b2)" opacity="0.8"/>
<ellipse cx="1500.0" cy="1345.0" rx="6.0" ry="20.0" fill="#b87078" filter="url(#b2)" opacity="0.7" transform="rotate(-20 1500.0 1345.0)"/>
</g>
<path d="M1561.7 1240.3C1560.4 1235.9 1550.8 1232.1 1545.3 1228.8C1539.8 1225.5 1534.3 1222.5 1528.9 1220.6C1523.4 1218.6 1517.1 1217.7 1512.4 1217.3C1507.8 1216.9 1503.9 1217.3 1500.9 1218.1C1497.9 1218.9 1495.3 1220.4 1494.3 1222.2C1493.4 1224.0 1493.5 1226.3 1495.2 1228.8C1496.8 1231.2 1500.0 1234.8 1504.2 1237.0C1508.4 1239.2 1515.7 1240.6 1520.6 1241.9C1525.6 1243.3 1529.7 1243.6 1533.8 1245.2C1537.9 1246.9 1542.0 1250.1 1545.3 1251.8C1548.6 1253.4 1550.8 1257.0 1553.5 1255.1C1556.3 1253.2 1563.1 1244.7 1561.7 1240.3Z" fill="#d0959a" filter="url(#b05)"/>
<g clip-path="url(#ob16)">
<ellipse cx="1505.0" cy="1226.0" rx="10.0" ry="6.0" fill="#e8c0b8" filter="url(#b2)" opacity="0.9"/>
<ellipse cx="1540.0" cy="1240.0" rx="16.0" ry="5.0" fill="#c98a90" filter="url(#b2)" opacity="0.7" transform="rotate(25 1540.0 1240.0)"/>
</g>
<path d="M1533.8 1164.7C1533.4 1161.4 1534.3 1156.7 1534.6 1153.1C1534.9 1149.6 1534.2 1146.8 1535.4 1143.3C1536.7 1139.7 1538.7 1134.6 1542.0 1131.8C1545.3 1128.9 1549.7 1127.2 1555.2 1126.0C1560.6 1124.8 1568.3 1124.6 1574.9 1124.4C1581.5 1124.1 1588.1 1124.0 1594.6 1124.4C1601.2 1124.8 1608.1 1125.1 1614.4 1126.8C1620.7 1128.6 1627.0 1131.5 1632.4 1135.1C1637.9 1138.6 1643.1 1143.6 1647.2 1148.2C1651.4 1152.9 1654.5 1157.8 1657.1 1163.0C1659.7 1168.2 1661.6 1173.7 1662.9 1179.4C1664.1 1185.2 1664.5 1191.2 1664.5 1197.5C1664.5 1203.8 1663.8 1210.7 1662.9 1217.3C1661.9 1223.8 1660.5 1230.9 1658.8 1237.0C1657.0 1243.1 1653.7 1248.4 1652.2 1254.0C1650.7 1259.6 1650.3 1265.0 1649.7 1270.4C1649.2 1275.9 1649.2 1281.4 1648.9 1286.9C1648.6 1292.4 1648.5 1297.8 1648.1 1303.3C1647.7 1308.8 1647.4 1314.3 1646.4 1319.8C1645.5 1325.2 1644.1 1330.7 1642.3 1336.2C1640.5 1341.7 1638.5 1347.2 1635.7 1352.7C1633.0 1358.1 1630.0 1363.9 1625.9 1369.1C1621.8 1374.3 1616.3 1379.8 1611.1 1383.9C1605.9 1388.0 1600.1 1390.9 1594.6 1393.8C1589.1 1396.6 1583.7 1399.4 1578.2 1401.2C1572.7 1402.9 1567.2 1403.8 1561.7 1404.4C1556.3 1405.1 1550.8 1405.5 1545.3 1405.3C1539.8 1405.0 1534.3 1404.2 1528.9 1402.8C1523.4 1401.4 1516.8 1399.4 1512.4 1397.0C1508.0 1394.7 1504.5 1392.4 1502.6 1388.8C1500.6 1385.3 1500.8 1380.6 1500.9 1375.7C1501.0 1370.7 1502.6 1364.2 1503.4 1359.2C1504.2 1354.3 1504.3 1350.5 1505.8 1346.1C1507.3 1341.7 1510.2 1336.5 1512.4 1332.9C1514.6 1329.4 1517.1 1327.4 1519.0 1324.7C1520.9 1322.0 1522.3 1319.8 1523.9 1316.5C1525.6 1313.2 1526.7 1308.4 1528.9 1305.0C1531.1 1301.5 1534.3 1297.7 1537.1 1295.9C1539.8 1294.1 1544.4 1296.1 1545.3 1294.3C1546.2 1292.5 1542.6 1288.4 1542.3 1285.2C1542.1 1282.1 1542.6 1278.7 1543.7 1275.4C1544.7 1272.1 1547.2 1269.2 1548.6 1265.5C1550.0 1261.9 1550.2 1257.1 1551.9 1253.4C1553.5 1249.8 1556.8 1246.3 1558.5 1243.6C1560.1 1240.8 1560.1 1239.5 1561.7 1237.0C1563.4 1234.5 1566.1 1231.8 1568.3 1228.8C1570.5 1225.8 1573.5 1222.5 1574.9 1218.9C1576.3 1215.3 1577.4 1211.2 1576.5 1207.4C1575.7 1203.6 1573.0 1199.2 1570.0 1195.9C1567.0 1192.6 1562.6 1190.1 1558.5 1187.7C1554.3 1185.2 1548.9 1183.6 1545.3 1181.1C1541.7 1178.6 1539.0 1175.6 1537.1 1172.9C1535.2 1170.1 1534.2 1167.9 1533.8 1164.7Z" fill="#cc8c94" filter="url(#b05)"/>
<g clip-path="url(#ob17)">
<ellipse cx="1600.0" cy="1180.0" rx="55.0" ry="60.0" fill="#d3929a" filter="url(#b14)" opacity="0.9"/>
<ellipse cx="1585.0" cy="1165.0" rx="22.0" ry="30.0" fill="#b97c8e" filter="url(#b8)" opacity="0.7" transform="rotate(-30 1585.0 1165.0)"/>
<ellipse cx="1580.0" cy="1330.0" rx="50.0" ry="48.0" fill="#a87c8c" filter="url(#b14)" opacity="0.95"/>
<ellipse cx="1600.0" cy="1310.0" rx="35.0" ry="40.0" fill="#9c7488" filter="url(#b8)" opacity="0.6"/>
<ellipse cx="1530.0" cy="1385.0" rx="50.0" ry="20.0" fill="#c98890" filter="url(#b8)" opacity="0.8"/>
<ellipse cx="1650.0" cy="1260.0" rx="8.0" ry="110.0" fill="#bf7f8c" filter="url(#b4)" opacity="0.7" transform="rotate(5 1650.0 1260.0)"/>
<ellipse cx="1575.0" cy="1250.0" rx="35.0" ry="18.0" fill="#dca0a4" filter="url(#b8)" opacity="0.8"/>
<ellipse cx="1560.0" cy="1130.0" rx="60.0" ry="8.0" fill="#d99aa0" filter="url(#b4)" opacity="0.7"/>
<ellipse cx="1520.0" cy="1325.0" rx="4.0" ry="5.0" fill="#7a2a30" filter="url(#b1)" opacity="0.8"/>
<ellipse cx="1585.0" cy="1372.0" rx="9.0" ry="9.0" fill="#e0a4a0" filter="url(#b2)" opacity="0.8"/>
<ellipse cx="1555.0" cy="1275.0" rx="12.0" ry="16.0" fill="#dba6a6" filter="url(#b4)" opacity="0.8" transform="rotate(30 1555.0 1275.0)"/>
<ellipse cx="1630.0" cy="1190.0" rx="7.0" ry="10.0" fill="#e0acb0" filter="url(#b2)" opacity="0.6"/>
<ellipse cx="1540.0" cy="1155.0" rx="6.0" ry="4.0" fill="#b0707c" filter="url(#b2)" opacity="0.6"/>
</g>
<ellipse cx="1780.9" cy="1233.4" rx="51.6" ry="51.3" fill="#1e1f24" filter="url(#b2)" opacity="0.8"/>
<ellipse cx="1778.9" cy="1229.9" rx="51.6" ry="51.3" fill="#742a34" filter="url(#b05)"/>
<g clip-path="url(#ob18)">
<ellipse cx="1780.0" cy="1230.0" rx="34.0" ry="32.0" fill="#94404a" filter="url(#b8)" opacity="0.9"/>
<ellipse cx="1775.0" cy="1222.0" rx="20.0" ry="14.0" fill="#c08078" filter="url(#b4)" opacity="0.7"/>
<ellipse cx="1740.0" cy="1245.0" rx="8.0" ry="30.0" fill="#5c2028" filter="url(#b4)" opacity="0.8"/>
<ellipse cx="1780.0" cy="1272.0" rx="40.0" ry="8.0" fill="#5a1e28" filter="url(#b4)" opacity="0.8"/>
<ellipse cx="1815.0" cy="1215.0" rx="8.0" ry="30.0" fill="#6a2630" filter="url(#b4)" opacity="0.7"/>
<ellipse cx="1755.0" cy="1215.0" rx="10.0" ry="3.0" fill="#fbe6e2" filter="url(#b1)" opacity="0.9" transform="rotate(10 1755.0 1215.0)"/>
<ellipse cx="1780.0" cy="1226.0" rx="12.0" ry="5.0" fill="#f0cdb8" filter="url(#b1)" opacity="0.8" transform="rotate(30 1780.0 1226.0)"/>
<ellipse cx="1795.0" cy="1238.0" rx="8.0" ry="3.0" fill="#f0cdb8" filter="url(#b1)" opacity="0.7" transform="rotate(-20 1795.0 1238.0)"/>
<ellipse cx="1782.0" cy="1256.0" rx="6.0" ry="3.0" fill="#e8c0a8" filter="url(#b1)" opacity="0.7"/>
</g>
<path d="M1844.8 1187.4C1845.0 1184.1 1845.2 1181.5 1847.2 1179.2C1849.3 1176.8 1852.7 1175.1 1857.1 1173.4C1861.5 1171.8 1868.0 1170.3 1873.5 1169.3C1879.0 1168.3 1884.5 1167.9 1890.0 1167.7C1895.4 1167.4 1900.9 1167.2 1906.4 1167.7C1911.9 1168.1 1917.4 1168.7 1922.9 1170.1C1928.3 1171.5 1934.4 1173.3 1939.3 1175.9C1944.2 1178.5 1948.6 1181.9 1952.4 1185.7C1956.3 1189.6 1960.0 1194.2 1962.3 1198.9C1964.6 1203.6 1965.9 1208.5 1966.4 1213.7C1967.0 1218.9 1966.3 1224.7 1965.6 1230.1C1964.9 1235.6 1963.0 1242.1 1962.3 1246.6C1961.6 1251.1 1962.3 1252.5 1961.5 1257.0C1960.7 1261.5 1958.6 1268.0 1957.4 1273.4C1956.1 1278.9 1955.0 1284.4 1954.1 1289.9C1953.1 1295.4 1952.3 1300.8 1951.6 1306.3C1950.9 1311.8 1950.7 1317.3 1950.0 1322.8C1949.3 1328.2 1948.7 1333.7 1947.5 1339.2C1946.3 1344.7 1944.8 1350.2 1942.6 1355.7C1940.4 1361.1 1937.6 1366.9 1934.4 1372.1C1931.1 1377.3 1927.2 1382.2 1922.9 1386.9C1918.5 1391.6 1913.3 1396.2 1908.1 1400.0C1902.8 1403.9 1897.1 1407.3 1891.6 1409.9C1886.1 1412.5 1880.6 1414.6 1875.2 1415.7C1869.7 1416.8 1864.2 1417.0 1858.7 1416.5C1853.2 1415.9 1847.5 1414.3 1842.3 1412.4C1837.1 1410.5 1831.9 1407.9 1827.5 1405.0C1823.1 1402.1 1819.3 1398.7 1816.0 1395.1C1812.7 1391.6 1809.9 1387.7 1807.8 1383.6C1805.6 1379.5 1803.8 1375.1 1802.8 1370.4C1801.9 1365.8 1801.7 1360.6 1802.0 1355.7C1802.3 1350.7 1803.2 1345.5 1804.5 1340.9C1805.7 1336.2 1807.5 1331.8 1809.4 1327.7C1811.3 1323.6 1813.5 1319.8 1816.0 1316.2C1818.4 1312.6 1821.2 1308.9 1824.2 1306.3C1827.2 1303.7 1830.8 1301.6 1834.1 1300.6C1837.4 1299.5 1841.2 1299.3 1843.9 1300.1C1846.7 1300.9 1848.3 1304.6 1850.5 1305.5C1852.7 1306.4 1855.0 1306.1 1857.1 1305.5C1859.1 1305.0 1861.7 1303.6 1862.8 1302.2C1863.9 1300.8 1864.3 1299.2 1863.7 1297.3C1863.0 1295.4 1858.5 1293.3 1858.7 1290.7C1859.0 1288.1 1862.8 1284.8 1865.3 1281.7C1867.8 1278.5 1871.1 1274.8 1873.5 1271.8C1876.0 1268.8 1877.9 1266.1 1880.1 1263.6C1882.3 1261.0 1885.3 1259.0 1886.7 1256.4C1888.0 1253.9 1888.6 1251.0 1888.3 1248.2C1888.0 1245.5 1887.0 1242.7 1885.0 1240.0C1883.1 1237.3 1880.1 1234.2 1876.8 1231.8C1873.5 1229.3 1869.1 1227.4 1865.3 1225.2C1861.5 1223.0 1856.5 1221.1 1853.8 1218.6C1851.1 1216.2 1850.2 1213.7 1848.9 1210.4C1847.5 1207.1 1846.3 1202.7 1845.6 1198.9C1844.9 1195.1 1844.5 1190.7 1844.8 1187.4Z" fill="#1c1d22" filter="url(#b2)" opacity="0.7"/>
<path d="M1876.2 1271.3C1875.1 1268.7 1867.4 1268.0 1863.0 1267.2C1858.6 1266.4 1854.0 1266.2 1849.9 1266.4C1845.8 1266.5 1841.9 1266.9 1838.4 1268.0C1834.8 1269.1 1831.1 1270.7 1828.5 1272.9C1825.9 1275.1 1823.6 1278.8 1822.7 1281.2C1821.9 1283.5 1822.0 1285.3 1823.6 1286.9C1825.1 1288.6 1828.8 1290.6 1831.8 1291.0C1834.8 1291.4 1838.4 1290.1 1841.6 1289.4C1844.9 1288.7 1848.5 1287.3 1851.5 1286.9C1854.5 1286.5 1856.7 1287.6 1859.7 1286.9C1862.7 1286.2 1866.9 1285.4 1869.6 1282.8C1872.3 1280.2 1877.3 1273.9 1876.2 1271.3Z" fill="#1c1d22" filter="url(#b2)" opacity="0.7"/>
<path d="M1877.2 1268.8C1876.1 1266.2 1868.4 1265.5 1864.0 1264.7C1859.6 1263.9 1855.0 1263.7 1850.9 1263.9C1846.8 1264.0 1842.9 1264.4 1839.4 1265.5C1835.8 1266.6 1832.1 1268.2 1829.5 1270.4C1826.9 1272.6 1824.6 1276.3 1823.7 1278.7C1822.9 1281.0 1823.0 1282.8 1824.6 1284.4C1826.1 1286.1 1829.8 1288.1 1832.8 1288.5C1835.8 1288.9 1839.4 1287.6 1842.6 1286.9C1845.9 1286.2 1849.5 1284.8 1852.5 1284.4C1855.5 1284.0 1857.7 1285.1 1860.7 1284.4C1863.7 1283.7 1867.9 1282.9 1870.6 1280.3C1873.3 1277.7 1878.3 1271.4 1877.2 1268.8Z" fill="#c98088" filter="url(#b05)"/>
<g clip-path="url(#ob19)">
<ellipse cx="1830.0" cy="1275.0" rx="8.0" ry="5.0" fill="#e0b0a8" filter="url(#b2)" opacity="0.8"/>
</g>
<path d="M1846.8 1184.4C1847.0 1181.1 1847.2 1178.5 1849.2 1176.2C1851.3 1173.8 1854.7 1172.1 1859.1 1170.4C1863.5 1168.8 1870.0 1167.3 1875.5 1166.3C1881.0 1165.3 1886.5 1164.9 1892.0 1164.7C1897.4 1164.4 1902.9 1164.2 1908.4 1164.7C1913.9 1165.1 1919.4 1165.7 1924.9 1167.1C1930.3 1168.5 1936.4 1170.3 1941.3 1172.9C1946.2 1175.5 1950.6 1178.9 1954.4 1182.7C1958.3 1186.6 1962.0 1191.2 1964.3 1195.9C1966.6 1200.6 1967.9 1205.5 1968.4 1210.7C1969.0 1215.9 1968.3 1221.7 1967.6 1227.1C1966.9 1232.6 1965.0 1239.1 1964.3 1243.6C1963.6 1248.1 1964.3 1249.5 1963.5 1254.0C1962.7 1258.5 1960.6 1265.0 1959.4 1270.4C1958.1 1275.9 1957.0 1281.4 1956.1 1286.9C1955.1 1292.4 1954.3 1297.8 1953.6 1303.3C1952.9 1308.8 1952.7 1314.3 1952.0 1319.8C1951.3 1325.2 1950.7 1330.7 1949.5 1336.2C1948.3 1341.7 1946.8 1347.2 1944.6 1352.7C1942.4 1358.1 1939.6 1363.9 1936.4 1369.1C1933.1 1374.3 1929.2 1379.2 1924.9 1383.9C1920.5 1388.6 1915.3 1393.2 1910.1 1397.0C1904.8 1400.9 1899.1 1404.3 1893.6 1406.9C1888.1 1409.5 1882.6 1411.6 1877.2 1412.7C1871.7 1413.8 1866.2 1414.0 1860.7 1413.5C1855.2 1412.9 1849.5 1411.3 1844.3 1409.4C1839.1 1407.5 1833.9 1404.9 1829.5 1402.0C1825.1 1399.1 1821.3 1395.7 1818.0 1392.1C1814.7 1388.6 1811.9 1384.7 1809.8 1380.6C1807.6 1376.5 1805.8 1372.1 1804.8 1367.4C1803.9 1362.8 1803.7 1357.6 1804.0 1352.7C1804.3 1347.7 1805.2 1342.5 1806.5 1337.9C1807.7 1333.2 1809.5 1328.8 1811.4 1324.7C1813.3 1320.6 1815.5 1316.8 1818.0 1313.2C1820.4 1309.6 1823.2 1305.9 1826.2 1303.3C1829.2 1300.7 1832.8 1298.6 1836.1 1297.6C1839.4 1296.5 1843.2 1296.3 1845.9 1297.1C1848.7 1297.9 1850.3 1301.6 1852.5 1302.5C1854.7 1303.4 1857.0 1303.1 1859.1 1302.5C1861.1 1302.0 1863.7 1300.6 1864.8 1299.2C1865.9 1297.8 1866.3 1296.2 1865.7 1294.3C1865.0 1292.4 1860.5 1290.3 1860.7 1287.7C1861.0 1285.1 1864.8 1281.8 1867.3 1278.7C1869.8 1275.5 1873.1 1271.8 1875.5 1268.8C1878.0 1265.8 1879.9 1263.1 1882.1 1260.6C1884.3 1258.0 1887.3 1256.0 1888.7 1253.4C1890.0 1250.9 1890.6 1248.0 1890.3 1245.2C1890.0 1242.5 1889.0 1239.7 1887.0 1237.0C1885.1 1234.3 1882.1 1231.2 1878.8 1228.8C1875.5 1226.3 1871.1 1224.4 1867.3 1222.2C1863.5 1220.0 1858.5 1218.1 1855.8 1215.6C1853.1 1213.2 1852.2 1210.7 1850.9 1207.4C1849.5 1204.1 1848.3 1199.7 1847.6 1195.9C1846.9 1192.1 1846.5 1187.7 1846.8 1184.4Z" fill="#bf7482" filter="url(#b05)"/>
<g clip-path="url(#ob20)">
<ellipse cx="1910.0" cy="1220.0" rx="45.0" ry="45.0" fill="#c87c88" filter="url(#b14)" opacity="0.9"/>
<ellipse cx="1900.0" cy="1330.0" rx="45.0" ry="55.0" fill="#c98a94" filter="url(#b14)" opacity="0.9"/>
<ellipse cx="1870.0" cy="1340.0" rx="35.0" ry="35.0" fill="#a06478" filter="url(#b8)" opacity="0.7"/>
<ellipse cx="1905.0" cy="1378.0" rx="16.0" ry="12.0" fill="#6e5868" filter="url(#b4)" opacity="0.8"/>
<ellipse cx="1830.0" cy="1350.0" rx="10.0" ry="50.0" fill="#a04c5c" filter="url(#b4)" opacity="0.8" transform="rotate(15 1830.0 1350.0)"/>
<ellipse cx="1822.0" cy="1330.0" rx="3.0" ry="45.0" fill="#dda0a0" filter="url(#b1)" opacity="0.6" transform="rotate(18 1822.0 1330.0)"/>
<ellipse cx="1960.0" cy="1280.0" rx="6.0" ry="120.0" fill="#b06878" filter="url(#b4)" opacity="0.6" transform="rotate(8 1960.0 1280.0)"/>
<ellipse cx="1900.0" cy="1250.0" rx="40.0" ry="12.0" fill="#a85c6c" filter="url(#b4)" opacity="0.6" transform="rotate(-20 1900.0 1250.0)"/>
<ellipse cx="1925.0" cy="1290.0" rx="14.0" ry="30.0" fill="#d69aa0" filter="url(#b8)" opacity="0.8"/>
<ellipse cx="1930.0" cy="1205.0" rx="8.0" ry="10.0" fill="#e0aaa8" filter="url(#b2)" opacity="0.8"/>
<ellipse cx="1895.0" cy="1184.0" rx="6.0" ry="3.0" fill="#f0c8c4" filter="url(#b1)" opacity="0.8"/>
<ellipse cx="1880.0" cy="1178.0" rx="2.0" ry="2.0" fill="#6a1a24" filter="url(#b05)" opacity="0.9"/>
<ellipse cx="1850.0" cy="1190.0" rx="18.0" ry="14.0" fill="#cc8088" filter="url(#b4)" opacity="0.7"/>
<ellipse cx="1828.0" cy="1372.0" rx="5.0" ry="8.0" fill="#8a2a34" filter="url(#b2)" opacity="0.7"/>
</g>
<rect x="1852.8" y="1428.6" width="129.1" height="3.8" fill="#fff"/>
</g>
</g>
<text transform="translate(687.3 1089.8) scale(1 1.06)" font-size="45">H</text>
<text transform="translate(737.9 1464.5) scale(1 1.06)" font-size="37.9">Early</text>
<text transform="translate(855.8 1464.5) scale(1 1.06)" font-size="38.1">Midterm</text>
<text transform="translate(1133.5 1464.5) scale(1 1.06)" font-size="38.4">Late</text>
<text transform="translate(913.0 1548.2) scale(1 1.06)" font-size="45.1">Abortions</text>
<text transform="translate(1421.5 1482.0) scale(1 1.06)" font-size="38.7">From CON</text>
<text transform="translate(1607.0 1482.0) scale(1 1.06)" font-size="26">S</text>
<text transform="translate(1791.4 1482.0) scale(1 1.06)" font-size="38.6">From DM</text>
<text transform="translate(1950.5 1482.0) scale(1 1.06)" font-size="26">S</text>
<text transform="translate(1503.5 1550.2) scale(1 1.06)" font-size="45.3">Normal fetuses</text>
</svg>
</body>
</html>
